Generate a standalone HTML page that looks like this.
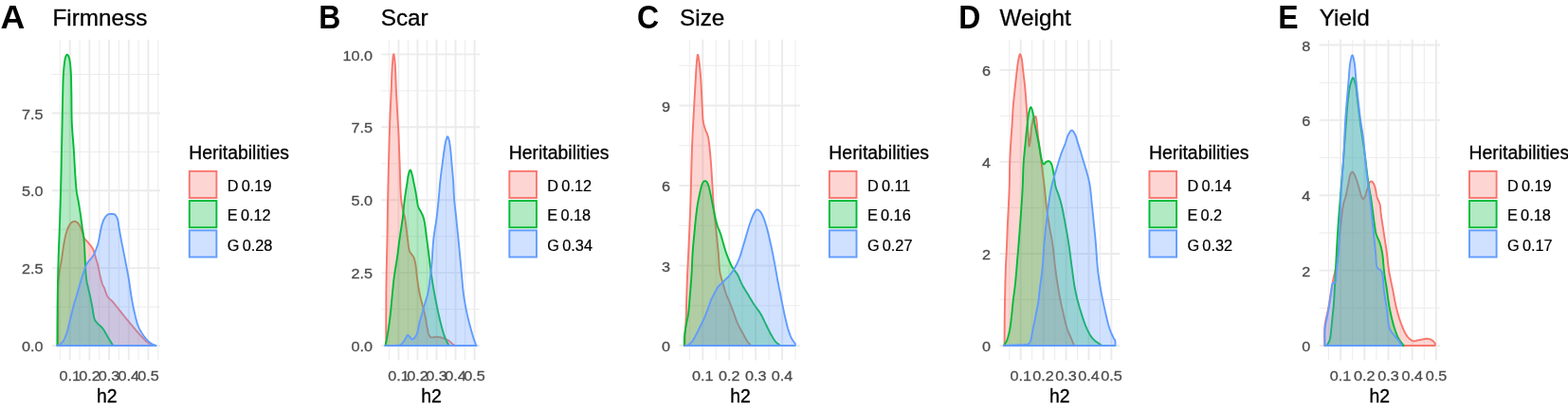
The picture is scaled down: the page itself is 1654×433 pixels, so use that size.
<!DOCTYPE html>
<html><head><meta charset="utf-8"><title>Heritabilities</title><style>
html,body{margin:0;padding:0;background:#fff;}
body{width:1654px;height:433px;overflow:hidden;}
svg{display:block;}
text{font-family:"Liberation Sans",Arial,sans-serif;}
.ax{font-size:16.2px;fill:#4D4D4D;stroke:#4D4D4D;stroke-width:0.3px;}
.at{font-size:19.4px;fill:#000;stroke:#000;stroke-width:0.3px;}
.lg{font-size:16.3px;fill:#000;word-spacing:-1.3px;stroke:#000;stroke-width:0.2px;}
.ti{font-size:24.3px;fill:#000;stroke:#000;stroke-width:0.3px;}
.lt{font-size:34.4px;font-weight:bold;fill:#000;}
</style></head><body>
<svg width="1654" height="433" viewBox="0 0 1654 433">
<rect width="1654" height="433" fill="#fff"/>
<line x1="63.36" y1="41.80" x2="63.36" y2="380.40" stroke="#EBEBEB" stroke-width="0.95"/>
<line x1="84.04" y1="41.80" x2="84.04" y2="380.40" stroke="#EBEBEB" stroke-width="0.95"/>
<line x1="104.71" y1="41.80" x2="104.71" y2="380.40" stroke="#EBEBEB" stroke-width="0.95"/>
<line x1="125.39" y1="41.80" x2="125.39" y2="380.40" stroke="#EBEBEB" stroke-width="0.95"/>
<line x1="146.06" y1="41.80" x2="146.06" y2="380.40" stroke="#EBEBEB" stroke-width="0.95"/>
<line x1="166.74" y1="41.80" x2="166.74" y2="380.40" stroke="#EBEBEB" stroke-width="0.95"/>
<line x1="54.70" y1="324.07" x2="169.10" y2="324.07" stroke="#EBEBEB" stroke-width="0.95"/>
<line x1="54.70" y1="242.22" x2="169.10" y2="242.22" stroke="#EBEBEB" stroke-width="0.95"/>
<line x1="54.70" y1="160.38" x2="169.10" y2="160.38" stroke="#EBEBEB" stroke-width="0.95"/>
<line x1="54.70" y1="78.52" x2="169.10" y2="78.52" stroke="#EBEBEB" stroke-width="0.95"/>
<line x1="73.70" y1="41.80" x2="73.70" y2="380.40" stroke="#EBEBEB" stroke-width="1.9"/>
<line x1="94.38" y1="41.80" x2="94.38" y2="380.40" stroke="#EBEBEB" stroke-width="1.9"/>
<line x1="115.05" y1="41.80" x2="115.05" y2="380.40" stroke="#EBEBEB" stroke-width="1.9"/>
<line x1="135.73" y1="41.80" x2="135.73" y2="380.40" stroke="#EBEBEB" stroke-width="1.9"/>
<line x1="156.40" y1="41.80" x2="156.40" y2="380.40" stroke="#EBEBEB" stroke-width="1.9"/>
<line x1="54.70" y1="365.00" x2="169.10" y2="365.00" stroke="#EBEBEB" stroke-width="1.9"/>
<line x1="54.70" y1="283.15" x2="169.10" y2="283.15" stroke="#EBEBEB" stroke-width="1.9"/>
<line x1="54.70" y1="201.30" x2="169.10" y2="201.30" stroke="#EBEBEB" stroke-width="1.9"/>
<line x1="54.70" y1="119.45" x2="169.10" y2="119.45" stroke="#EBEBEB" stroke-width="1.9"/>
<path d="M61.30 365.00 L61.30 365.00 L61.30 360.61 L61.29 356.19 L61.29 351.76 L61.29 347.33 L61.28 342.93 L61.28 338.56 L61.29 334.25 L61.30 330.00 L61.30 326.07 L61.28 322.10 L61.26 318.13 L61.25 314.21 L61.25 310.39 L61.29 306.72 L61.37 303.24 L61.50 300.00 L61.63 297.85 L61.78 295.80 L61.94 293.84 L62.13 291.96 L62.33 290.15 L62.54 288.39 L62.77 286.68 L63.00 285.00 L63.20 283.71 L63.41 282.50 L63.64 281.34 L63.87 280.21 L64.11 279.07 L64.34 277.91 L64.57 276.70 L64.80 275.40 L65.08 273.64 L65.34 271.77 L65.61 269.81 L65.87 267.82 L66.14 265.81 L66.42 263.81 L66.70 261.86 L67.00 260.00 L67.27 258.38 L67.54 256.77 L67.81 255.18 L68.09 253.61 L68.39 252.08 L68.70 250.58 L69.03 249.12 L69.40 247.70 L69.73 246.50 L70.08 245.32 L70.44 244.15 L70.82 243.01 L71.21 241.91 L71.62 240.87 L72.05 239.90 L72.50 239.00 L72.84 238.38 L73.19 237.79 L73.54 237.23 L73.91 236.70 L74.28 236.21 L74.67 235.76 L75.08 235.35 L75.50 235.00 L75.86 234.74 L76.24 234.51 L76.62 234.31 L77.02 234.13 L77.42 233.99 L77.82 233.88 L78.21 233.82 L78.60 233.80 L78.97 233.83 L79.35 233.90 L79.72 234.01 L80.09 234.15 L80.46 234.33 L80.82 234.53 L81.17 234.76 L81.50 235.00 L81.88 235.32 L82.25 235.69 L82.60 236.10 L82.94 236.54 L83.27 237.00 L83.59 237.49 L83.90 237.99 L84.20 238.50 L84.53 239.11 L84.84 239.74 L85.14 240.41 L85.42 241.10 L85.70 241.80 L85.96 242.52 L86.23 243.26 L86.50 244.00 L86.79 244.89 L87.05 245.84 L87.30 246.83 L87.55 247.82 L87.81 248.80 L88.09 249.74 L88.42 250.62 L88.80 251.40 L89.14 251.94 L89.52 252.44 L89.91 252.89 L90.33 253.31 L90.75 253.73 L91.17 254.14 L91.59 254.56 L92.00 255.00 L92.40 255.46 L92.81 255.92 L93.21 256.38 L93.62 256.84 L94.02 257.31 L94.42 257.79 L94.81 258.28 L95.20 258.80 L95.63 259.39 L96.07 259.99 L96.51 260.61 L96.94 261.25 L97.36 261.90 L97.77 262.57 L98.15 263.27 L98.50 264.00 L98.86 264.87 L99.18 265.78 L99.47 266.72 L99.74 267.69 L100.00 268.68 L100.25 269.68 L100.52 270.69 L100.80 271.70 L101.13 272.82 L101.48 273.96 L101.83 275.12 L102.19 276.29 L102.54 277.47 L102.88 278.65 L103.20 279.83 L103.50 281.00 L103.77 282.15 L104.01 283.29 L104.24 284.44 L104.46 285.58 L104.68 286.73 L104.90 287.88 L105.14 289.04 L105.40 290.20 L105.69 291.44 L106.00 292.73 L106.31 294.05 L106.63 295.35 L106.97 296.63 L107.31 297.85 L107.65 298.98 L108.00 300.00 L108.24 300.61 L108.48 301.15 L108.72 301.64 L108.96 302.11 L109.21 302.58 L109.47 303.07 L109.73 303.61 L110.00 304.20 L110.40 305.21 L110.81 306.36 L111.22 307.59 L111.65 308.87 L112.11 310.14 L112.60 311.37 L113.12 312.50 L113.70 313.50 L114.20 314.19 L114.74 314.80 L115.31 315.36 L115.89 315.89 L116.49 316.40 L117.10 316.93 L117.70 317.49 L118.30 318.10 L119.00 318.88 L119.71 319.71 L120.42 320.57 L121.14 321.44 L121.87 322.34 L122.58 323.23 L123.30 324.12 L124.00 325.00 L124.68 325.85 L125.33 326.68 L125.97 327.51 L126.62 328.35 L127.27 329.20 L127.95 330.07 L128.65 330.96 L129.40 331.90 L130.42 333.16 L131.50 334.48 L132.62 335.84 L133.78 337.25 L134.97 338.67 L136.17 340.11 L137.39 341.56 L138.60 343.00 L139.96 344.61 L141.38 346.31 L142.84 348.05 L144.31 349.78 L145.76 351.48 L147.16 353.09 L148.48 354.58 L149.70 355.90 L150.44 356.68 L151.15 357.42 L151.82 358.12 L152.47 358.77 L153.11 359.38 L153.74 359.96 L154.37 360.50 L155.00 361.00 L155.49 361.36 L155.97 361.70 L156.45 362.00 L156.92 362.29 L157.40 362.55 L157.88 362.81 L158.38 363.06 L158.90 363.30 L159.49 363.55 L160.09 363.78 L160.72 364.00 L161.35 364.20 L161.99 364.40 L162.63 364.59 L163.27 364.79 L163.90 365.00 L163.90 365.00 Z" fill="#F8766D" fill-opacity="0.30" stroke="#F8766D" stroke-width="1.90" stroke-linejoin="round"/>
<path d="M60.40 365.00 L60.40 365.00 L60.41 361.89 L60.42 358.80 L60.43 355.73 L60.44 352.64 L60.45 349.54 L60.46 346.41 L60.48 343.23 L60.50 340.00 L60.53 336.34 L60.56 332.55 L60.59 328.68 L60.62 324.79 L60.66 320.93 L60.71 317.14 L60.75 313.48 L60.80 310.00 L60.84 307.33 L60.88 304.79 L60.93 302.35 L60.98 299.96 L61.03 297.57 L61.08 295.14 L61.14 292.63 L61.20 290.00 L61.28 286.64 L61.38 283.06 L61.48 279.33 L61.58 275.56 L61.69 271.85 L61.79 268.29 L61.90 264.97 L62.00 262.00 L62.06 260.28 L62.13 258.72 L62.19 257.27 L62.25 255.88 L62.31 254.50 L62.37 253.10 L62.44 251.61 L62.50 250.00 L62.58 247.78 L62.67 245.47 L62.75 243.09 L62.84 240.63 L62.93 238.09 L63.02 235.47 L63.11 232.77 L63.20 230.00 L63.32 226.28 L63.45 222.37 L63.58 218.31 L63.71 214.13 L63.84 209.87 L63.96 205.58 L64.09 201.27 L64.20 197.00 L64.31 192.45 L64.42 187.81 L64.53 183.11 L64.63 178.39 L64.72 173.68 L64.82 169.03 L64.91 164.45 L65.00 160.00 L65.08 156.10 L65.16 152.28 L65.23 148.52 L65.31 144.80 L65.38 141.11 L65.45 137.43 L65.53 133.73 L65.60 130.00 L65.67 126.21 L65.75 122.36 L65.82 118.48 L65.89 114.62 L65.96 110.81 L66.04 107.07 L66.12 103.46 L66.20 100.00 L66.26 97.27 L66.32 94.60 L66.38 91.98 L66.45 89.43 L66.51 86.95 L66.59 84.55 L66.69 82.23 L66.80 80.00 L66.90 78.34 L67.00 76.73 L67.11 75.17 L67.22 73.65 L67.35 72.18 L67.48 70.75 L67.63 69.36 L67.80 68.00 L67.94 66.88 L68.07 65.76 L68.21 64.65 L68.36 63.57 L68.53 62.55 L68.72 61.60 L68.94 60.74 L69.20 60.00 L69.37 59.60 L69.56 59.20 L69.75 58.81 L69.96 58.46 L70.17 58.16 L70.38 57.92 L70.59 57.76 L70.80 57.70 L71.00 57.73 L71.21 57.85 L71.42 58.04 L71.63 58.28 L71.84 58.56 L72.04 58.86 L72.23 59.18 L72.40 59.50 L72.63 60.02 L72.83 60.60 L73.01 61.24 L73.17 61.94 L73.31 62.67 L73.44 63.43 L73.57 64.21 L73.70 65.00 L73.87 66.08 L74.02 67.20 L74.16 68.37 L74.28 69.59 L74.40 70.86 L74.50 72.19 L74.60 73.56 L74.70 75.00 L74.82 77.13 L74.92 79.38 L75.00 81.75 L75.07 84.22 L75.13 86.79 L75.19 89.45 L75.24 92.19 L75.30 95.00 L75.37 98.94 L75.41 103.16 L75.43 107.59 L75.46 112.15 L75.49 116.74 L75.55 121.31 L75.65 125.75 L75.80 130.00 L75.98 133.63 L76.21 137.18 L76.46 140.66 L76.73 144.10 L77.01 147.52 L77.29 150.92 L77.56 154.35 L77.80 157.80 L78.02 161.32 L78.22 164.92 L78.42 168.54 L78.61 172.15 L78.80 175.70 L78.99 179.15 L79.19 182.47 L79.40 185.60 L79.56 187.90 L79.71 190.13 L79.86 192.29 L80.02 194.38 L80.19 196.41 L80.37 198.39 L80.57 200.32 L80.80 202.20 L81.01 203.69 L81.25 205.11 L81.50 206.48 L81.75 207.82 L82.02 209.15 L82.28 210.49 L82.55 211.87 L82.80 213.30 L83.08 214.96 L83.36 216.66 L83.64 218.40 L83.92 220.15 L84.20 221.92 L84.47 223.69 L84.74 225.45 L85.00 227.20 L85.25 228.96 L85.50 230.75 L85.74 232.55 L85.98 234.34 L86.21 236.11 L86.44 237.84 L86.67 239.51 L86.90 241.10 L87.08 242.29 L87.27 243.41 L87.46 244.48 L87.64 245.53 L87.82 246.58 L87.99 247.66 L88.15 248.79 L88.30 250.00 L88.47 251.69 L88.62 253.47 L88.75 255.34 L88.88 257.25 L88.99 259.20 L89.09 261.16 L89.20 263.10 L89.30 265.00 L89.40 266.87 L89.48 268.74 L89.56 270.60 L89.63 272.47 L89.71 274.34 L89.79 276.22 L89.89 278.10 L90.00 280.00 L90.13 282.01 L90.25 284.10 L90.39 286.21 L90.53 288.32 L90.69 290.39 L90.87 292.38 L91.07 294.26 L91.30 296.00 L91.48 297.13 L91.67 298.18 L91.88 299.18 L92.09 300.14 L92.31 301.08 L92.54 302.02 L92.77 302.99 L93.00 304.00 L93.26 305.14 L93.53 306.30 L93.80 307.46 L94.08 308.64 L94.37 309.83 L94.65 311.04 L94.93 312.26 L95.20 313.50 L95.49 314.88 L95.78 316.28 L96.07 317.71 L96.36 319.15 L96.64 320.60 L96.93 322.06 L97.21 323.53 L97.50 325.00 L97.78 326.59 L98.04 328.27 L98.28 330.00 L98.54 331.71 L98.81 333.37 L99.12 334.92 L99.47 336.31 L99.90 337.50 L100.18 338.10 L100.48 338.62 L100.78 339.08 L101.11 339.50 L101.45 339.91 L101.81 340.31 L102.19 340.74 L102.60 341.20 L103.19 341.84 L103.85 342.47 L104.56 343.11 L105.31 343.77 L106.06 344.44 L106.80 345.15 L107.52 345.90 L108.20 346.70 L108.95 347.72 L109.68 348.83 L110.39 350.02 L111.08 351.23 L111.76 352.46 L112.42 353.67 L113.07 354.82 L113.70 355.90 L114.22 356.74 L114.73 357.56 L115.24 358.37 L115.74 359.16 L116.22 359.92 L116.68 360.65 L117.11 361.35 L117.50 362.00 L117.75 362.42 L117.98 362.82 L118.19 363.20 L118.40 363.56 L118.60 363.92 L118.79 364.27 L118.99 364.63 L119.20 365.00 L119.20 365.00 Z" fill="#00BA38" fill-opacity="0.30" stroke="#00BA38" stroke-width="1.90" stroke-linejoin="round"/>
<path d="M60.20 365.00 L60.20 365.00 L60.45 364.94 L60.70 364.90 L60.95 364.86 L61.21 364.81 L61.46 364.76 L61.71 364.70 L61.95 364.61 L62.20 364.50 L62.49 364.33 L62.79 364.12 L63.08 363.88 L63.36 363.63 L63.65 363.35 L63.93 363.07 L64.22 362.78 L64.50 362.50 L64.82 362.19 L65.13 361.89 L65.45 361.58 L65.76 361.26 L66.08 360.92 L66.39 360.56 L66.70 360.15 L67.00 359.70 L67.48 358.89 L67.96 357.97 L68.43 356.95 L68.90 355.86 L69.36 354.73 L69.80 353.58 L70.21 352.42 L70.60 351.30 L70.97 350.13 L71.30 348.94 L71.60 347.73 L71.89 346.51 L72.16 345.27 L72.43 344.04 L72.71 342.82 L73.00 341.60 L73.30 340.40 L73.59 339.22 L73.89 338.04 L74.18 336.86 L74.48 335.68 L74.78 334.47 L75.09 333.25 L75.40 332.00 L75.76 330.54 L76.13 329.01 L76.51 327.43 L76.89 325.85 L77.27 324.29 L77.66 322.77 L78.03 321.33 L78.40 320.00 L78.66 319.11 L78.92 318.31 L79.16 317.55 L79.41 316.82 L79.66 316.08 L79.93 315.30 L80.20 314.45 L80.50 313.50 L81.04 311.69 L81.63 309.63 L82.26 307.38 L82.92 305.03 L83.59 302.64 L84.25 300.29 L84.89 298.05 L85.50 296.00 L85.95 294.49 L86.39 293.02 L86.82 291.59 L87.24 290.21 L87.66 288.86 L88.09 287.54 L88.54 286.26 L89.00 285.00 L89.41 283.93 L89.82 282.88 L90.24 281.84 L90.66 280.83 L91.10 279.85 L91.55 278.91 L92.01 278.03 L92.50 277.20 L92.91 276.59 L93.34 276.02 L93.79 275.50 L94.24 274.99 L94.70 274.50 L95.14 274.01 L95.58 273.52 L96.00 273.00 L96.39 272.50 L96.77 272.00 L97.15 271.51 L97.51 271.02 L97.87 270.52 L98.23 270.00 L98.57 269.46 L98.90 268.90 L99.26 268.23 L99.62 267.52 L99.95 266.79 L100.28 266.05 L100.60 265.29 L100.91 264.52 L101.21 263.76 L101.50 263.00 L101.78 262.26 L102.05 261.53 L102.31 260.80 L102.56 260.06 L102.80 259.31 L103.04 258.54 L103.27 257.74 L103.50 256.90 L103.78 255.78 L104.04 254.58 L104.30 253.34 L104.55 252.06 L104.79 250.77 L105.03 249.48 L105.26 248.22 L105.50 247.00 L105.71 245.90 L105.91 244.81 L106.09 243.73 L106.28 242.67 L106.48 241.61 L106.69 240.56 L106.93 239.52 L107.20 238.50 L107.48 237.51 L107.78 236.52 L108.09 235.53 L108.42 234.55 L108.78 233.60 L109.15 232.68 L109.56 231.81 L110.00 231.00 L110.40 230.34 L110.82 229.68 L111.25 229.04 L111.71 228.44 L112.18 227.88 L112.67 227.37 L113.18 226.94 L113.70 226.60 L114.14 226.39 L114.60 226.23 L115.08 226.12 L115.56 226.05 L116.05 226.02 L116.54 226.00 L117.03 226.00 L117.50 226.00 L117.96 226.00 L118.43 226.00 L118.91 226.01 L119.38 226.05 L119.84 226.12 L120.28 226.22 L120.71 226.38 L121.10 226.60 L121.54 226.95 L121.95 227.39 L122.33 227.90 L122.69 228.47 L123.02 229.08 L123.34 229.74 L123.63 230.41 L123.90 231.10 L124.21 232.04 L124.46 233.06 L124.66 234.14 L124.84 235.27 L124.99 236.43 L125.14 237.62 L125.31 238.81 L125.50 240.00 L125.73 241.33 L125.96 242.65 L126.19 243.99 L126.42 245.35 L126.67 246.76 L126.92 248.22 L127.20 249.77 L127.50 251.40 L127.99 254.00 L128.54 256.84 L129.13 259.86 L129.76 263.00 L130.39 266.19 L131.02 269.36 L131.63 272.46 L132.20 275.40 L132.69 277.95 L133.18 280.45 L133.67 282.92 L134.14 285.35 L134.60 287.77 L135.05 290.18 L135.49 292.59 L135.90 295.00 L136.27 297.34 L136.61 299.66 L136.93 301.98 L137.24 304.29 L137.55 306.59 L137.88 308.90 L138.22 311.20 L138.60 313.50 L139.01 315.83 L139.44 318.19 L139.88 320.56 L140.34 322.92 L140.82 325.25 L141.30 327.54 L141.80 329.76 L142.30 331.90 L142.72 333.65 L143.12 335.36 L143.52 337.03 L143.93 338.66 L144.37 340.26 L144.85 341.83 L145.39 343.37 L146.00 344.90 L146.67 346.38 L147.40 347.85 L148.18 349.30 L149.00 350.73 L149.85 352.11 L150.73 353.44 L151.61 354.71 L152.50 355.90 L153.26 356.86 L154.03 357.79 L154.82 358.69 L155.62 359.54 L156.43 360.34 L157.25 361.09 L158.07 361.78 L158.90 362.40 L159.59 362.84 L160.28 363.22 L160.98 363.56 L161.68 363.86 L162.39 364.13 L163.09 364.41 L163.80 364.69 L164.50 365.00 L164.50 365.00 Z" fill="#619CFF" fill-opacity="0.30" stroke="#619CFF" stroke-width="1.90" stroke-linejoin="round"/>
<text transform="translate(45.40 371.15) scale(1.000 0.940)" class="ax" text-anchor="end">0.0</text>
<text transform="translate(45.40 289.30) scale(1.000 0.940)" class="ax" text-anchor="end">2.5</text>
<text transform="translate(45.40 207.45) scale(1.000 0.940)" class="ax" text-anchor="end">5.0</text>
<text transform="translate(45.40 125.60) scale(1.000 0.940)" class="ax" text-anchor="end">7.5</text>
<text transform="translate(73.70 401.70) scale(1.000 0.940)" class="ax" text-anchor="middle">0.1</text>
<text transform="translate(94.38 401.70) scale(1.000 0.940)" class="ax" text-anchor="middle">0.2</text>
<text transform="translate(115.05 401.70) scale(1.000 0.940)" class="ax" text-anchor="middle">0.3</text>
<text transform="translate(135.73 401.70) scale(1.000 0.940)" class="ax" text-anchor="middle">0.4</text>
<text transform="translate(156.40 401.70) scale(1.000 0.940)" class="ax" text-anchor="middle">0.5</text>
<text transform="translate(112.80 424.80) scale(1.000 1.060)" class="at" text-anchor="middle">h2</text>
<text transform="translate(0.40 30.00) scale(1.040 1.000)" class="lt">A</text>
<text x="55.40" y="26.70" class="ti">Firmness</text>
<text transform="translate(199.25 167.50) scale(1.000 1.060)" class="at">Heritabilities</text>
<rect x="199.80" y="180.80" width="28.6" height="28.2" fill="#F8766D" fill-opacity="0.30" stroke="#F8766D" stroke-width="1.90"/>
<text transform="translate(239.80 202.00) scale(1.000 1.030)" class="lg">D 0.19</text>
<rect x="199.80" y="212.05" width="28.6" height="28.2" fill="#00BA38" fill-opacity="0.30" stroke="#00BA38" stroke-width="1.90"/>
<text transform="translate(239.80 233.25) scale(1.000 1.030)" class="lg">E 0.12</text>
<rect x="199.80" y="243.30" width="28.6" height="28.2" fill="#619CFF" fill-opacity="0.30" stroke="#619CFF" stroke-width="1.90"/>
<text transform="translate(239.80 264.50) scale(1.000 1.030)" class="lg">G 0.28</text>
<line x1="410.38" y1="41.80" x2="410.38" y2="380.40" stroke="#EBEBEB" stroke-width="0.95"/>
<line x1="430.42" y1="41.80" x2="430.42" y2="380.40" stroke="#EBEBEB" stroke-width="0.95"/>
<line x1="450.48" y1="41.80" x2="450.48" y2="380.40" stroke="#EBEBEB" stroke-width="0.95"/>
<line x1="470.52" y1="41.80" x2="470.52" y2="380.40" stroke="#EBEBEB" stroke-width="0.95"/>
<line x1="490.58" y1="41.80" x2="490.58" y2="380.40" stroke="#EBEBEB" stroke-width="0.95"/>
<line x1="402.20" y1="326.55" x2="506.20" y2="326.55" stroke="#EBEBEB" stroke-width="0.95"/>
<line x1="402.20" y1="249.65" x2="506.20" y2="249.65" stroke="#EBEBEB" stroke-width="0.95"/>
<line x1="402.20" y1="172.75" x2="506.20" y2="172.75" stroke="#EBEBEB" stroke-width="0.95"/>
<line x1="402.20" y1="95.85" x2="506.20" y2="95.85" stroke="#EBEBEB" stroke-width="0.95"/>
<line x1="420.40" y1="41.80" x2="420.40" y2="380.40" stroke="#EBEBEB" stroke-width="1.9"/>
<line x1="440.45" y1="41.80" x2="440.45" y2="380.40" stroke="#EBEBEB" stroke-width="1.9"/>
<line x1="460.50" y1="41.80" x2="460.50" y2="380.40" stroke="#EBEBEB" stroke-width="1.9"/>
<line x1="480.55" y1="41.80" x2="480.55" y2="380.40" stroke="#EBEBEB" stroke-width="1.9"/>
<line x1="500.60" y1="41.80" x2="500.60" y2="380.40" stroke="#EBEBEB" stroke-width="1.9"/>
<line x1="402.20" y1="365.00" x2="506.20" y2="365.00" stroke="#EBEBEB" stroke-width="1.9"/>
<line x1="402.20" y1="288.10" x2="506.20" y2="288.10" stroke="#EBEBEB" stroke-width="1.9"/>
<line x1="402.20" y1="211.20" x2="506.20" y2="211.20" stroke="#EBEBEB" stroke-width="1.9"/>
<line x1="402.20" y1="134.30" x2="506.20" y2="134.30" stroke="#EBEBEB" stroke-width="1.9"/>
<line x1="402.20" y1="57.40" x2="506.20" y2="57.40" stroke="#EBEBEB" stroke-width="1.9"/>
<path d="M407.20 365.00 L407.20 365.00 L407.21 360.61 L407.22 356.19 L407.23 351.76 L407.24 347.33 L407.25 342.93 L407.27 338.56 L407.28 334.25 L407.30 330.00 L407.32 326.19 L407.33 322.52 L407.35 318.92 L407.36 315.33 L407.38 311.71 L407.41 307.98 L407.45 304.10 L407.50 300.00 L407.59 294.31 L407.70 288.24 L407.83 281.90 L407.97 275.39 L408.11 268.84 L408.25 262.35 L408.39 256.03 L408.50 250.00 L408.59 244.92 L408.66 239.97 L408.73 235.12 L408.80 230.33 L408.86 225.59 L408.93 220.85 L409.01 216.10 L409.10 211.30 L409.20 206.50 L409.30 201.72 L409.41 196.94 L409.52 192.17 L409.63 187.38 L409.75 182.57 L409.87 177.71 L410.00 172.80 L410.13 167.53 L410.27 162.15 L410.41 156.71 L410.55 151.24 L410.70 145.80 L410.86 140.42 L411.02 135.14 L411.20 130.00 L411.37 125.51 L411.55 121.07 L411.74 116.70 L411.94 112.38 L412.13 108.13 L412.33 103.93 L412.52 99.79 L412.70 95.70 L412.85 92.01 L412.98 88.27 L413.11 84.53 L413.24 80.86 L413.38 77.32 L413.53 73.95 L413.70 70.83 L413.90 68.00 L414.04 66.26 L414.19 64.44 L414.35 62.63 L414.51 60.94 L414.68 59.45 L414.85 58.27 L415.02 57.49 L415.20 57.20 L415.36 57.39 L415.52 57.93 L415.69 58.75 L415.86 59.79 L416.03 61.00 L416.20 62.32 L416.36 63.67 L416.50 65.00 L416.75 67.87 L416.95 71.26 L417.13 75.06 L417.28 79.12 L417.43 83.35 L417.57 87.60 L417.72 91.76 L417.90 95.70 L418.09 99.46 L418.29 103.30 L418.50 107.17 L418.71 111.00 L418.92 114.75 L419.12 118.37 L419.32 121.81 L419.50 125.00 L419.62 127.07 L419.74 128.96 L419.86 130.73 L419.97 132.45 L420.08 134.17 L420.18 135.96 L420.29 137.88 L420.40 140.00 L420.56 143.48 L420.71 147.26 L420.85 151.28 L421.00 155.48 L421.14 159.79 L421.29 164.16 L421.44 168.51 L421.60 172.80 L421.76 177.47 L421.90 182.40 L422.04 187.45 L422.18 192.50 L422.35 197.41 L422.55 202.05 L422.79 206.29 L423.10 210.00 L423.31 211.90 L423.53 213.66 L423.76 215.30 L424.01 216.84 L424.27 218.30 L424.54 219.72 L424.82 221.11 L425.10 222.50 L425.34 223.60 L425.60 224.61 L425.87 225.57 L426.14 226.52 L426.42 227.48 L426.69 228.49 L426.95 229.59 L427.20 230.80 L427.57 232.98 L427.93 235.44 L428.27 238.10 L428.60 240.89 L428.93 243.72 L429.25 246.50 L429.57 249.15 L429.90 251.60 L430.15 253.47 L430.37 255.35 L430.57 257.21 L430.79 259.01 L431.02 260.72 L431.29 262.30 L431.61 263.74 L432.00 265.00 L432.27 265.64 L432.56 266.22 L432.88 266.74 L433.21 267.22 L433.54 267.67 L433.87 268.11 L434.19 268.55 L434.50 269.00 L434.76 269.39 L435.03 269.75 L435.29 270.09 L435.55 270.43 L435.80 270.78 L436.05 271.15 L436.28 271.56 L436.50 272.00 L436.77 272.67 L437.02 273.38 L437.24 274.13 L437.45 274.93 L437.64 275.77 L437.83 276.67 L438.01 277.61 L438.20 278.60 L438.48 280.30 L438.74 282.18 L438.98 284.22 L439.21 286.36 L439.44 288.55 L439.67 290.75 L439.92 292.92 L440.20 295.00 L440.48 296.98 L440.76 298.93 L441.05 300.86 L441.35 302.80 L441.67 304.74 L442.01 306.72 L442.39 308.73 L442.80 310.80 L443.35 313.30 L443.98 315.90 L444.67 318.56 L445.39 321.26 L446.10 323.95 L446.79 326.59 L447.44 329.16 L448.00 331.60 L448.41 333.57 L448.78 335.52 L449.13 337.44 L449.46 339.31 L449.77 341.13 L450.08 342.88 L450.38 344.54 L450.70 346.10 L450.92 347.17 L451.12 348.22 L451.30 349.23 L451.49 350.20 L451.70 351.13 L451.93 351.99 L452.19 352.78 L452.50 353.50 L452.73 353.96 L452.98 354.40 L453.23 354.82 L453.49 355.21 L453.78 355.56 L454.09 355.86 L454.43 356.11 L454.80 356.30 L455.27 356.42 L455.78 356.42 L456.34 356.35 L456.92 356.23 L457.53 356.08 L458.15 355.94 L458.78 355.84 L459.40 355.80 L460.15 355.81 L460.94 355.85 L461.75 355.91 L462.57 355.99 L463.39 356.09 L464.20 356.21 L464.97 356.35 L465.70 356.50 L466.29 356.65 L466.86 356.81 L467.42 356.98 L467.97 357.17 L468.49 357.37 L469.01 357.58 L469.51 357.79 L470.00 358.00 L470.40 358.18 L470.78 358.35 L471.15 358.53 L471.50 358.71 L471.86 358.90 L472.22 359.11 L472.60 359.34 L473.00 359.60 L473.61 360.03 L474.27 360.55 L474.97 361.13 L475.67 361.73 L476.37 362.32 L477.03 362.89 L477.65 363.39 L478.20 363.80 L478.49 364.00 L478.76 364.17 L479.01 364.32 L479.25 364.46 L479.48 364.59 L479.72 364.72 L479.96 364.86 L480.20 365.00 L480.20 365.00 Z" fill="#F8766D" fill-opacity="0.30" stroke="#F8766D" stroke-width="1.90" stroke-linejoin="round"/>
<path d="M406.40 365.00 L406.40 365.00 L406.55 364.38 L406.70 363.78 L406.85 363.18 L407.00 362.58 L407.16 361.96 L407.31 361.34 L407.45 360.68 L407.60 360.00 L407.78 359.09 L407.96 358.15 L408.14 357.16 L408.31 356.15 L408.49 355.12 L408.66 354.08 L408.83 353.04 L409.00 352.00 L409.18 350.91 L409.36 349.82 L409.54 348.72 L409.71 347.62 L409.89 346.50 L410.06 345.36 L410.23 344.19 L410.40 343.00 L410.59 341.60 L410.78 340.19 L410.97 338.75 L411.16 337.28 L411.35 335.78 L411.53 334.24 L411.72 332.64 L411.90 331.00 L412.13 328.84 L412.35 326.57 L412.57 324.22 L412.79 321.80 L413.01 319.35 L413.24 316.89 L413.46 314.43 L413.70 312.00 L413.94 309.52 L414.18 307.03 L414.42 304.52 L414.67 302.01 L414.93 299.50 L415.20 296.99 L415.49 294.49 L415.80 292.00 L416.14 289.54 L416.51 287.10 L416.91 284.66 L417.32 282.22 L417.73 279.78 L418.13 277.34 L418.53 274.88 L418.90 272.40 L419.26 269.83 L419.60 267.25 L419.93 264.65 L420.26 262.04 L420.58 259.43 L420.91 256.81 L421.25 254.20 L421.60 251.60 L421.98 249.00 L422.37 246.39 L422.78 243.78 L423.18 241.17 L423.59 238.57 L423.98 235.97 L424.36 233.38 L424.70 230.80 L425.00 228.30 L425.27 225.80 L425.52 223.30 L425.76 220.81 L426.00 218.33 L426.24 215.87 L426.51 213.42 L426.80 211.00 L427.11 208.66 L427.44 206.29 L427.79 203.91 L428.15 201.56 L428.51 199.26 L428.86 197.04 L429.19 194.95 L429.50 193.00 L429.70 191.70 L429.87 190.46 L430.04 189.25 L430.20 188.10 L430.37 187.00 L430.55 185.95 L430.76 184.95 L431.00 184.00 L431.20 183.29 L431.41 182.54 L431.63 181.79 L431.86 181.08 L432.10 180.45 L432.34 179.95 L432.57 179.62 L432.80 179.50 L433.03 179.62 L433.26 179.95 L433.49 180.45 L433.72 181.08 L433.95 181.79 L434.17 182.54 L434.39 183.29 L434.60 184.00 L434.87 184.97 L435.12 186.01 L435.36 187.12 L435.59 188.27 L435.82 189.45 L436.04 190.64 L436.27 191.83 L436.50 193.00 L436.75 194.23 L437.01 195.49 L437.28 196.76 L437.54 198.03 L437.79 199.31 L438.04 200.56 L438.28 201.80 L438.50 203.00 L438.68 204.04 L438.85 205.07 L439.01 206.08 L439.17 207.08 L439.32 208.07 L439.47 209.05 L439.63 210.02 L439.80 211.00 L439.95 211.94 L440.09 212.87 L440.23 213.80 L440.37 214.73 L440.52 215.64 L440.71 216.54 L440.93 217.43 L441.20 218.30 L441.53 219.13 L441.91 219.93 L442.33 220.72 L442.78 221.50 L443.23 222.27 L443.68 223.04 L444.11 223.81 L444.50 224.60 L444.85 225.34 L445.19 226.05 L445.51 226.74 L445.83 227.45 L446.13 228.18 L446.43 228.97 L446.72 229.83 L447.00 230.80 L447.47 232.80 L447.90 235.12 L448.30 237.68 L448.68 240.41 L449.04 243.25 L449.39 246.10 L449.74 248.91 L450.10 251.60 L450.46 254.20 L450.81 256.81 L451.15 259.43 L451.48 262.04 L451.81 264.64 L452.14 267.24 L452.47 269.83 L452.80 272.40 L453.11 274.88 L453.42 277.35 L453.72 279.81 L454.02 282.26 L454.32 284.71 L454.63 287.15 L454.96 289.58 L455.30 292.00 L455.65 294.37 L456.01 296.71 L456.38 299.04 L456.76 301.37 L457.15 303.70 L457.55 306.05 L457.97 308.41 L458.40 310.80 L458.88 313.37 L459.37 315.99 L459.89 318.63 L460.42 321.29 L460.95 323.93 L461.50 326.55 L462.05 329.11 L462.60 331.60 L463.10 333.80 L463.60 335.99 L464.11 338.17 L464.62 340.30 L465.14 342.39 L465.66 344.41 L466.18 346.35 L466.70 348.20 L467.10 349.57 L467.50 350.89 L467.89 352.16 L468.29 353.39 L468.69 354.58 L469.11 355.75 L469.54 356.88 L470.00 358.00 L470.42 358.94 L470.85 359.85 L471.30 360.73 L471.76 361.59 L472.22 362.44 L472.68 363.28 L473.15 364.13 L473.60 365.00 L473.60 365.00 Z" fill="#00BA38" fill-opacity="0.30" stroke="#00BA38" stroke-width="1.90" stroke-linejoin="round"/>
<path d="M406.40 365.00 L406.40 365.00 L407.36 364.99 L408.33 364.98 L409.30 364.97 L410.28 364.96 L411.24 364.95 L412.19 364.94 L413.11 364.92 L414.00 364.90 L414.75 364.88 L415.49 364.87 L416.23 364.85 L416.95 364.84 L417.65 364.82 L418.31 364.79 L418.93 364.75 L419.50 364.70 L419.84 364.66 L420.16 364.63 L420.46 364.59 L420.75 364.55 L421.02 364.50 L421.29 364.45 L421.55 364.38 L421.80 364.30 L422.01 364.23 L422.20 364.15 L422.38 364.07 L422.56 363.99 L422.74 363.89 L422.92 363.78 L423.10 363.65 L423.30 363.50 L423.64 363.20 L424.00 362.84 L424.38 362.43 L424.76 361.98 L425.14 361.51 L425.51 361.03 L425.87 360.56 L426.20 360.10 L426.50 359.66 L426.77 359.20 L427.04 358.74 L427.29 358.27 L427.54 357.81 L427.79 357.35 L428.04 356.92 L428.30 356.50 L428.52 356.13 L428.74 355.73 L428.96 355.33 L429.18 354.94 L429.40 354.59 L429.62 354.30 L429.86 354.10 L430.10 354.00 L430.32 354.02 L430.55 354.11 L430.78 354.28 L431.02 354.49 L431.26 354.74 L431.50 355.00 L431.75 355.26 L432.00 355.50 L432.33 355.84 L432.68 356.27 L433.03 356.73 L433.39 357.19 L433.74 357.63 L434.10 358.00 L434.46 358.27 L434.80 358.40 L435.06 358.41 L435.31 358.36 L435.56 358.26 L435.81 358.12 L436.06 357.95 L436.31 357.75 L436.56 357.53 L436.80 357.30 L437.19 356.88 L437.59 356.40 L437.98 355.84 L438.37 355.22 L438.75 354.55 L439.12 353.84 L439.47 353.09 L439.80 352.30 L440.25 351.01 L440.65 349.54 L441.01 347.95 L441.34 346.28 L441.67 344.57 L441.99 342.87 L442.33 341.23 L442.70 339.70 L443.05 338.42 L443.41 337.17 L443.78 335.94 L444.15 334.74 L444.53 333.55 L444.89 332.36 L445.25 331.18 L445.60 330.00 L445.91 328.89 L446.21 327.79 L446.51 326.70 L446.80 325.62 L447.08 324.53 L447.38 323.44 L447.68 322.33 L448.00 321.20 L448.37 319.95 L448.77 318.70 L449.17 317.43 L449.59 316.16 L450.00 314.86 L450.39 313.54 L450.76 312.18 L451.10 310.80 L451.44 309.19 L451.76 307.53 L452.04 305.85 L452.31 304.13 L452.56 302.38 L452.81 300.60 L453.05 298.81 L453.30 297.00 L453.57 294.99 L453.84 292.98 L454.10 290.95 L454.35 288.89 L454.59 286.78 L454.83 284.60 L455.07 282.35 L455.30 280.00 L455.58 276.77 L455.82 273.31 L456.06 269.69 L456.28 265.97 L456.52 262.24 L456.77 258.55 L457.06 254.98 L457.40 251.60 L457.74 248.84 L458.11 246.15 L458.52 243.53 L458.93 240.95 L459.35 238.41 L459.76 235.88 L460.15 233.35 L460.50 230.80 L460.81 228.34 L461.09 225.91 L461.36 223.48 L461.62 221.07 L461.87 218.65 L462.11 216.22 L462.36 213.78 L462.60 211.30 L462.85 208.67 L463.08 205.99 L463.31 203.28 L463.53 200.57 L463.76 197.86 L463.99 195.18 L464.24 192.56 L464.50 190.00 L464.75 187.76 L465.02 185.55 L465.29 183.38 L465.57 181.24 L465.86 179.11 L466.14 177.00 L466.42 174.90 L466.70 172.80 L466.96 170.76 L467.22 168.70 L467.48 166.63 L467.74 164.58 L468.00 162.57 L468.26 160.62 L468.53 158.76 L468.80 157.00 L469.00 155.72 L469.20 154.47 L469.39 153.26 L469.59 152.08 L469.80 150.96 L470.01 149.90 L470.25 148.91 L470.50 148.00 L470.68 147.40 L470.87 146.77 L471.07 146.15 L471.28 145.57 L471.48 145.07 L471.69 144.66 L471.90 144.40 L472.10 144.30 L472.30 144.39 L472.51 144.66 L472.72 145.06 L472.93 145.56 L473.14 146.14 L473.34 146.76 L473.52 147.39 L473.70 148.00 L473.95 148.99 L474.17 150.10 L474.37 151.29 L474.55 152.56 L474.72 153.88 L474.88 155.24 L475.04 156.62 L475.20 158.00 L475.39 159.70 L475.56 161.47 L475.73 163.29 L475.88 165.15 L476.03 167.04 L476.18 168.95 L476.34 170.88 L476.50 172.80 L476.69 174.88 L476.88 176.97 L477.07 179.07 L477.27 181.20 L477.46 183.36 L477.65 185.54 L477.83 187.75 L478.00 190.00 L478.17 192.56 L478.31 195.19 L478.44 197.86 L478.57 200.57 L478.70 203.28 L478.84 205.99 L479.00 208.67 L479.20 211.30 L479.42 213.78 L479.66 216.22 L479.92 218.65 L480.20 221.07 L480.48 223.48 L480.76 225.90 L481.03 228.34 L481.30 230.80 L481.57 233.37 L481.83 235.95 L482.10 238.55 L482.36 241.16 L482.62 243.77 L482.88 246.38 L483.14 249.00 L483.40 251.60 L483.66 254.21 L483.91 256.84 L484.17 259.48 L484.42 262.11 L484.67 264.73 L484.92 267.32 L485.16 269.88 L485.40 272.40 L485.61 274.66 L485.81 276.87 L486.01 279.04 L486.20 281.20 L486.39 283.36 L486.59 285.53 L486.79 287.74 L487.00 290.00 L487.23 292.52 L487.44 295.08 L487.66 297.68 L487.88 300.30 L488.12 302.93 L488.38 305.57 L488.67 308.19 L489.00 310.80 L489.37 313.42 L489.78 316.07 L490.22 318.72 L490.68 321.36 L491.16 323.99 L491.66 326.58 L492.18 329.12 L492.70 331.60 L493.19 333.80 L493.70 335.98 L494.23 338.15 L494.77 340.27 L495.31 342.35 L495.85 344.37 L496.39 346.33 L496.90 348.20 L497.30 349.64 L497.70 351.06 L498.09 352.44 L498.48 353.77 L498.87 355.06 L499.25 356.30 L499.63 357.48 L500.00 358.60 L500.28 359.39 L500.56 360.18 L500.84 360.95 L501.12 361.69 L501.40 362.38 L501.65 363.00 L501.89 363.55 L502.10 364.00 L502.19 364.17 L502.26 364.31 L502.34 364.44 L502.41 364.56 L502.48 364.66 L502.55 364.77 L502.63 364.88 L502.70 365.00 L502.70 365.00 Z" fill="#619CFF" fill-opacity="0.30" stroke="#619CFF" stroke-width="1.90" stroke-linejoin="round"/>
<text transform="translate(392.90 371.15) scale(1.000 0.940)" class="ax" text-anchor="end">0.0</text>
<text transform="translate(392.90 294.25) scale(1.000 0.940)" class="ax" text-anchor="end">2.5</text>
<text transform="translate(392.90 217.35) scale(1.000 0.940)" class="ax" text-anchor="end">5.0</text>
<text transform="translate(392.90 140.45) scale(1.000 0.940)" class="ax" text-anchor="end">7.5</text>
<text transform="translate(392.90 63.55) scale(1.000 0.940)" class="ax" text-anchor="end">10.0</text>
<text transform="translate(420.40 401.70) scale(1.000 0.940)" class="ax" text-anchor="middle">0.1</text>
<text transform="translate(440.45 401.70) scale(1.000 0.940)" class="ax" text-anchor="middle">0.2</text>
<text transform="translate(460.50 401.70) scale(1.000 0.940)" class="ax" text-anchor="middle">0.3</text>
<text transform="translate(480.55 401.70) scale(1.000 0.940)" class="ax" text-anchor="middle">0.4</text>
<text transform="translate(500.60 401.70) scale(1.000 0.940)" class="ax" text-anchor="middle">0.5</text>
<text transform="translate(455.10 424.80) scale(1.000 1.060)" class="at" text-anchor="middle">h2</text>
<text transform="translate(336.20 30.00) scale(0.930 1.000)" class="lt">B</text>
<text x="401.70" y="26.70" class="ti">Scar</text>
<text transform="translate(536.80 167.50) scale(1.000 1.060)" class="at">Heritabilities</text>
<rect x="537.35" y="180.80" width="28.6" height="28.2" fill="#F8766D" fill-opacity="0.30" stroke="#F8766D" stroke-width="1.90"/>
<text transform="translate(577.35 202.00) scale(1.000 1.030)" class="lg">D 0.12</text>
<rect x="537.35" y="212.05" width="28.6" height="28.2" fill="#00BA38" fill-opacity="0.30" stroke="#00BA38" stroke-width="1.90"/>
<text transform="translate(577.35 233.25) scale(1.000 1.030)" class="lg">E 0.18</text>
<rect x="537.35" y="243.30" width="28.6" height="28.2" fill="#619CFF" fill-opacity="0.30" stroke="#619CFF" stroke-width="1.90"/>
<text transform="translate(577.35 264.50) scale(1.000 1.030)" class="lg">G 0.34</text>
<line x1="727.33" y1="41.80" x2="727.33" y2="380.40" stroke="#EBEBEB" stroke-width="0.95"/>
<line x1="755.27" y1="41.80" x2="755.27" y2="380.40" stroke="#EBEBEB" stroke-width="0.95"/>
<line x1="783.20" y1="41.80" x2="783.20" y2="380.40" stroke="#EBEBEB" stroke-width="0.95"/>
<line x1="811.13" y1="41.80" x2="811.13" y2="380.40" stroke="#EBEBEB" stroke-width="0.95"/>
<line x1="839.07" y1="41.80" x2="839.07" y2="380.40" stroke="#EBEBEB" stroke-width="0.95"/>
<line x1="716.30" y1="322.75" x2="844.00" y2="322.75" stroke="#EBEBEB" stroke-width="0.95"/>
<line x1="716.30" y1="238.23" x2="844.00" y2="238.23" stroke="#EBEBEB" stroke-width="0.95"/>
<line x1="716.30" y1="153.72" x2="844.00" y2="153.72" stroke="#EBEBEB" stroke-width="0.95"/>
<line x1="716.30" y1="69.21" x2="844.00" y2="69.21" stroke="#EBEBEB" stroke-width="0.95"/>
<line x1="741.30" y1="41.80" x2="741.30" y2="380.40" stroke="#EBEBEB" stroke-width="1.9"/>
<line x1="769.23" y1="41.80" x2="769.23" y2="380.40" stroke="#EBEBEB" stroke-width="1.9"/>
<line x1="797.17" y1="41.80" x2="797.17" y2="380.40" stroke="#EBEBEB" stroke-width="1.9"/>
<line x1="825.10" y1="41.80" x2="825.10" y2="380.40" stroke="#EBEBEB" stroke-width="1.9"/>
<line x1="716.30" y1="365.00" x2="844.00" y2="365.00" stroke="#EBEBEB" stroke-width="1.9"/>
<line x1="716.30" y1="280.49" x2="844.00" y2="280.49" stroke="#EBEBEB" stroke-width="1.9"/>
<line x1="716.30" y1="195.98" x2="844.00" y2="195.98" stroke="#EBEBEB" stroke-width="1.9"/>
<line x1="716.30" y1="111.47" x2="844.00" y2="111.47" stroke="#EBEBEB" stroke-width="1.9"/>
<path d="M722.50 365.00 L722.50 365.00 L722.51 363.37 L722.51 361.74 L722.50 360.10 L722.50 358.47 L722.50 356.84 L722.52 355.21 L722.55 353.60 L722.60 352.00 L722.68 350.51 L722.78 349.07 L722.89 347.66 L723.02 346.24 L723.15 344.80 L723.28 343.30 L723.40 341.71 L723.50 340.00 L723.62 337.30 L723.72 334.36 L723.81 331.25 L723.89 328.00 L723.96 324.70 L724.03 321.39 L724.11 318.14 L724.20 315.00 L724.29 312.10 L724.38 309.27 L724.47 306.47 L724.57 303.68 L724.66 300.86 L724.77 297.99 L724.88 295.05 L725.00 292.00 L725.16 288.26 L725.33 284.40 L725.52 280.45 L725.72 276.42 L725.92 272.34 L726.12 268.22 L726.31 264.10 L726.50 260.00 L726.70 255.63 L726.90 251.13 L727.10 246.56 L727.30 241.99 L727.49 237.48 L727.67 233.10 L727.84 228.92 L728.00 225.00 L728.11 222.26 L728.20 219.70 L728.29 217.27 L728.38 214.91 L728.46 212.55 L728.54 210.15 L728.62 207.66 L728.70 205.00 L728.79 201.51 L728.88 197.81 L728.97 193.98 L729.05 190.07 L729.14 186.15 L729.22 182.29 L729.31 178.55 L729.40 175.00 L729.48 172.15 L729.56 169.40 L729.64 166.72 L729.72 164.09 L729.81 161.47 L729.90 158.86 L730.00 156.21 L730.10 153.50 L730.22 150.59 L730.35 147.63 L730.48 144.63 L730.62 141.63 L730.77 138.64 L730.91 135.69 L731.06 132.80 L731.20 130.00 L731.32 127.63 L731.44 125.37 L731.56 123.17 L731.68 120.99 L731.80 118.80 L731.93 116.54 L732.06 114.19 L732.20 111.70 L732.39 108.22 L732.60 104.47 L732.81 100.53 L733.04 96.50 L733.26 92.49 L733.48 88.59 L733.70 84.89 L733.90 81.50 L734.04 79.15 L734.17 76.87 L734.30 74.66 L734.43 72.52 L734.56 70.48 L734.69 68.54 L734.84 66.71 L735.00 65.00 L735.11 63.85 L735.23 62.63 L735.34 61.41 L735.46 60.26 L735.58 59.25 L735.71 58.44 L735.85 57.90 L736.00 57.70 L736.14 57.83 L736.28 58.20 L736.43 58.76 L736.59 59.48 L736.75 60.30 L736.90 61.19 L737.05 62.11 L737.20 63.00 L737.46 64.74 L737.72 66.72 L737.97 68.91 L738.21 71.26 L738.45 73.73 L738.67 76.29 L738.89 78.89 L739.10 81.50 L739.35 84.99 L739.57 88.77 L739.78 92.73 L739.98 96.77 L740.17 100.79 L740.35 104.69 L740.53 108.36 L740.70 111.70 L740.81 113.92 L740.91 116.08 L741.01 118.18 L741.10 120.20 L741.19 122.11 L741.31 123.89 L741.44 125.53 L741.60 127.00 L741.70 127.76 L741.81 128.44 L741.92 129.07 L742.04 129.66 L742.17 130.24 L742.30 130.80 L742.44 131.39 L742.60 132.00 L742.78 132.68 L742.97 133.38 L743.17 134.08 L743.39 134.78 L743.61 135.48 L743.83 136.17 L744.06 136.84 L744.30 137.50 L744.53 138.09 L744.77 138.65 L745.02 139.21 L745.28 139.76 L745.53 140.31 L745.77 140.86 L745.99 141.42 L746.20 142.00 L746.39 142.58 L746.56 143.14 L746.71 143.70 L746.85 144.26 L746.99 144.86 L747.12 145.50 L747.26 146.21 L747.40 147.00 L747.68 148.79 L747.96 150.87 L748.23 153.19 L748.50 155.69 L748.76 158.32 L749.01 161.03 L749.26 163.78 L749.50 166.50 L749.79 169.97 L750.06 173.67 L750.33 177.51 L750.58 181.44 L750.83 185.35 L751.06 189.19 L751.29 192.86 L751.50 196.30 L751.66 198.88 L751.80 201.40 L751.93 203.85 L752.06 206.24 L752.19 208.55 L752.32 210.79 L752.45 212.94 L752.60 215.00 L752.72 216.47 L752.83 217.83 L752.95 219.11 L753.06 220.37 L753.19 221.63 L753.32 222.93 L753.45 224.30 L753.60 225.80 L753.82 228.07 L754.07 230.50 L754.33 233.07 L754.60 235.73 L754.88 238.44 L755.16 241.17 L755.43 243.86 L755.70 246.50 L755.97 249.10 L756.23 251.70 L756.51 254.30 L756.78 256.90 L757.04 259.50 L757.30 262.10 L757.56 264.70 L757.80 267.30 L758.01 269.93 L758.18 272.61 L758.33 275.31 L758.48 278.00 L758.65 280.65 L758.87 283.22 L759.14 285.68 L759.50 288.00 L759.85 289.72 L760.24 291.37 L760.68 292.95 L761.14 294.48 L761.61 295.98 L762.09 297.46 L762.56 298.93 L763.00 300.40 L763.38 301.75 L763.75 303.07 L764.12 304.38 L764.48 305.67 L764.85 306.96 L765.24 308.24 L765.66 309.52 L766.10 310.80 L766.59 312.11 L767.12 313.41 L767.68 314.71 L768.26 316.01 L768.84 317.31 L769.41 318.60 L769.97 319.90 L770.50 321.20 L771.00 322.49 L771.49 323.77 L771.96 325.06 L772.43 326.34 L772.89 327.63 L773.36 328.92 L773.82 330.21 L774.30 331.50 L774.77 332.80 L775.24 334.10 L775.69 335.41 L776.16 336.72 L776.63 338.02 L777.12 339.32 L777.64 340.61 L778.20 341.90 L778.82 343.22 L779.47 344.55 L780.16 345.88 L780.87 347.20 L781.59 348.51 L782.30 349.80 L783.01 351.06 L783.70 352.30 L784.31 353.41 L784.91 354.52 L785.52 355.62 L786.12 356.70 L786.72 357.75 L787.31 358.75 L787.91 359.71 L788.50 360.60 L788.95 361.23 L789.41 361.82 L789.86 362.38 L790.31 362.91 L790.75 363.43 L791.20 363.94 L791.65 364.46 L792.10 365.00 L792.10 365.00 Z" fill="#F8766D" fill-opacity="0.30" stroke="#F8766D" stroke-width="1.90" stroke-linejoin="round"/>
<path d="M721.80 365.00 L721.80 365.00 L721.81 363.99 L721.81 362.96 L721.81 361.92 L721.81 360.88 L721.82 359.86 L721.83 358.87 L721.86 357.91 L721.90 357.00 L721.94 356.33 L721.99 355.71 L722.04 355.11 L722.09 354.53 L722.16 353.95 L722.23 353.34 L722.31 352.70 L722.40 352.00 L722.55 350.91 L722.72 349.74 L722.91 348.51 L723.11 347.23 L723.33 345.92 L723.55 344.60 L723.78 343.28 L724.00 342.00 L724.24 340.72 L724.49 339.48 L724.75 338.24 L725.01 336.99 L725.27 335.71 L725.53 334.39 L725.77 332.99 L726.00 331.50 L726.29 329.25 L726.55 326.82 L726.80 324.26 L727.03 321.59 L727.26 318.88 L727.47 316.14 L727.68 313.44 L727.90 310.80 L728.12 308.21 L728.33 305.63 L728.55 303.05 L728.75 300.46 L728.95 297.87 L729.14 295.27 L729.33 292.64 L729.50 290.00 L729.66 287.20 L729.80 284.37 L729.92 281.52 L730.04 278.65 L730.15 275.78 L730.28 272.93 L730.43 270.10 L730.60 267.30 L730.79 264.65 L730.99 262.03 L731.21 259.43 L731.44 256.84 L731.67 254.25 L731.91 251.67 L732.16 249.09 L732.40 246.50 L732.65 243.86 L732.90 241.16 L733.17 238.44 L733.43 235.73 L733.70 233.07 L733.97 230.50 L734.24 228.07 L734.50 225.80 L734.68 224.28 L734.86 222.84 L735.04 221.47 L735.21 220.15 L735.40 218.86 L735.58 217.58 L735.78 216.30 L736.00 215.00 L736.22 213.72 L736.46 212.45 L736.70 211.18 L736.96 209.92 L737.21 208.67 L737.48 207.43 L737.74 206.21 L738.00 205.00 L738.24 203.88 L738.47 202.76 L738.71 201.63 L738.94 200.53 L739.19 199.45 L739.44 198.41 L739.71 197.42 L740.00 196.50 L740.22 195.83 L740.45 195.17 L740.68 194.53 L740.92 193.91 L741.17 193.34 L741.43 192.82 L741.70 192.37 L742.00 192.00 L742.20 191.81 L742.40 191.63 L742.61 191.48 L742.82 191.35 L743.04 191.24 L743.26 191.17 L743.48 191.12 L743.70 191.10 L743.92 191.11 L744.16 191.16 L744.39 191.23 L744.62 191.34 L744.85 191.47 L745.08 191.62 L745.29 191.80 L745.50 192.00 L745.80 192.37 L746.08 192.82 L746.34 193.34 L746.59 193.91 L746.83 194.53 L747.05 195.17 L747.28 195.83 L747.50 196.50 L747.79 197.42 L748.06 198.41 L748.31 199.45 L748.56 200.53 L748.79 201.63 L749.03 202.76 L749.26 203.88 L749.50 205.00 L749.76 206.21 L750.01 207.43 L750.26 208.67 L750.51 209.92 L750.76 211.18 L751.00 212.45 L751.25 213.73 L751.50 215.00 L751.76 216.33 L752.01 217.65 L752.25 218.99 L752.50 220.33 L752.76 221.68 L753.02 223.04 L753.30 224.41 L753.60 225.80 L753.94 227.33 L754.30 228.91 L754.66 230.51 L755.05 232.12 L755.44 233.71 L755.85 235.27 L756.27 236.77 L756.70 238.20 L757.07 239.30 L757.45 240.31 L757.83 241.28 L758.23 242.22 L758.63 243.18 L759.04 244.19 L759.47 245.29 L759.90 246.50 L760.60 248.67 L761.32 251.12 L762.07 253.78 L762.84 256.55 L763.63 259.37 L764.44 262.16 L765.26 264.83 L766.10 267.30 L766.83 269.30 L767.57 271.27 L768.31 273.20 L769.08 275.09 L769.86 276.91 L770.65 278.66 L771.47 280.33 L772.30 281.90 L772.99 283.05 L773.71 284.10 L774.44 285.09 L775.19 286.04 L775.92 286.98 L776.65 287.94 L777.34 288.93 L778.00 290.00 L778.65 291.22 L779.25 292.48 L779.81 293.78 L780.36 295.11 L780.91 296.44 L781.47 297.78 L782.06 299.10 L782.70 300.40 L783.41 301.72 L784.15 303.02 L784.92 304.32 L785.71 305.62 L786.51 306.92 L787.31 308.21 L788.11 309.50 L788.90 310.80 L789.68 312.10 L790.45 313.41 L791.22 314.71 L792.00 316.02 L792.78 317.32 L793.57 318.62 L794.37 319.91 L795.20 321.20 L796.07 322.50 L796.99 323.78 L797.92 325.06 L798.86 326.33 L799.80 327.61 L800.71 328.89 L801.58 330.19 L802.40 331.50 L803.13 332.78 L803.82 334.07 L804.47 335.36 L805.11 336.67 L805.72 337.98 L806.34 339.29 L806.96 340.60 L807.60 341.90 L808.25 343.21 L808.89 344.53 L809.53 345.86 L810.17 347.19 L810.81 348.50 L811.47 349.80 L812.13 351.07 L812.80 352.30 L813.42 353.42 L814.04 354.54 L814.67 355.64 L815.30 356.73 L815.95 357.78 L816.61 358.78 L817.29 359.73 L818.00 360.60 L818.61 361.26 L819.24 361.86 L819.89 362.42 L820.55 362.94 L821.22 363.45 L821.88 363.95 L822.54 364.47 L823.20 365.00 L823.20 365.00 Z" fill="#00BA38" fill-opacity="0.30" stroke="#00BA38" stroke-width="1.90" stroke-linejoin="round"/>
<path d="M722.50 365.00 L722.50 365.00 L722.81 364.96 L723.11 364.94 L723.42 364.92 L723.72 364.90 L724.03 364.86 L724.34 364.81 L724.67 364.72 L725.00 364.60 L725.53 364.35 L726.10 364.03 L726.68 363.65 L727.28 363.22 L727.88 362.74 L728.48 362.22 L729.05 361.68 L729.60 361.10 L730.26 360.31 L730.89 359.43 L731.51 358.47 L732.11 357.46 L732.70 356.42 L733.28 355.37 L733.84 354.32 L734.40 353.30 L734.95 352.28 L735.49 351.23 L736.02 350.16 L736.53 349.09 L737.04 348.03 L737.54 346.99 L738.02 345.98 L738.50 345.00 L738.90 344.21 L739.29 343.44 L739.67 342.70 L740.04 341.97 L740.41 341.25 L740.77 340.52 L741.14 339.77 L741.50 339.00 L741.89 338.16 L742.27 337.30 L742.65 336.43 L743.03 335.56 L743.40 334.67 L743.77 333.78 L744.14 332.89 L744.50 332.00 L744.86 331.09 L745.22 330.17 L745.57 329.25 L745.92 328.32 L746.27 327.40 L746.61 326.47 L746.96 325.53 L747.30 324.60 L747.64 323.65 L747.97 322.69 L748.29 321.72 L748.62 320.75 L748.94 319.79 L749.28 318.84 L749.63 317.91 L750.00 317.00 L750.35 316.19 L750.72 315.41 L751.09 314.65 L751.46 313.89 L751.85 313.14 L752.25 312.38 L752.67 311.60 L753.10 310.80 L753.62 309.81 L754.16 308.77 L754.71 307.69 L755.29 306.60 L755.88 305.53 L756.48 304.51 L757.08 303.56 L757.70 302.70 L758.19 302.10 L758.70 301.55 L759.22 301.04 L759.74 300.56 L760.26 300.10 L760.78 299.64 L761.30 299.18 L761.80 298.70 L762.27 298.23 L762.74 297.77 L763.20 297.31 L763.66 296.85 L764.12 296.39 L764.58 295.93 L765.04 295.46 L765.50 295.00 L765.97 294.54 L766.44 294.09 L766.91 293.65 L767.39 293.20 L767.86 292.74 L768.34 292.26 L768.82 291.75 L769.30 291.20 L769.93 290.44 L770.57 289.63 L771.22 288.77 L771.87 287.87 L772.52 286.95 L773.16 285.99 L773.79 285.00 L774.40 284.00 L775.09 282.82 L775.77 281.61 L776.44 280.36 L777.10 279.07 L777.74 277.75 L778.38 276.38 L779.00 274.96 L779.60 273.50 L780.31 271.64 L780.98 269.69 L781.63 267.66 L782.26 265.58 L782.88 263.45 L783.51 261.28 L784.14 259.09 L784.80 256.90 L785.56 254.37 L786.34 251.71 L787.12 248.98 L787.92 246.23 L788.71 243.52 L789.49 240.91 L790.25 238.45 L791.00 236.20 L791.51 234.71 L792.01 233.28 L792.50 231.90 L792.98 230.59 L793.46 229.34 L793.96 228.15 L794.47 227.04 L795.00 226.00 L795.39 225.27 L795.79 224.52 L796.19 223.79 L796.59 223.11 L797.01 222.50 L797.43 221.99 L797.86 221.62 L798.30 221.40 L798.63 221.35 L798.97 221.38 L799.32 221.48 L799.67 221.62 L800.02 221.81 L800.36 222.03 L800.69 222.26 L801.00 222.50 L801.35 222.79 L801.68 223.12 L801.99 223.48 L802.30 223.87 L802.60 224.30 L802.89 224.76 L803.19 225.26 L803.50 225.80 L804.01 226.78 L804.53 227.87 L805.05 229.08 L805.57 230.37 L806.08 231.75 L806.60 233.18 L807.10 234.67 L807.60 236.20 L808.28 238.43 L808.96 240.85 L809.63 243.42 L810.30 246.08 L810.95 248.80 L811.58 251.54 L812.20 254.25 L812.80 256.90 L813.38 259.51 L813.94 262.13 L814.48 264.77 L815.01 267.41 L815.53 270.03 L816.03 272.63 L816.52 275.19 L817.00 277.70 L817.42 279.94 L817.82 282.15 L818.21 284.34 L818.58 286.50 L818.96 288.64 L819.33 290.77 L819.71 292.89 L820.10 295.00 L820.48 297.00 L820.85 298.95 L821.23 300.89 L821.61 302.81 L821.99 304.75 L822.38 306.72 L822.79 308.73 L823.20 310.80 L823.69 313.27 L824.19 315.83 L824.71 318.46 L825.23 321.12 L825.77 323.78 L826.31 326.42 L826.85 329.00 L827.40 331.50 L827.90 333.72 L828.40 335.95 L828.90 338.16 L829.42 340.34 L829.93 342.46 L830.45 344.49 L830.97 346.41 L831.50 348.20 L831.88 349.40 L832.25 350.54 L832.62 351.64 L832.99 352.68 L833.37 353.69 L833.76 354.65 L834.17 355.59 L834.60 356.50 L834.98 357.25 L835.40 357.99 L835.83 358.72 L836.27 359.42 L836.70 360.08 L837.10 360.69 L837.48 361.23 L837.80 361.70 L837.95 361.90 L838.10 362.08 L838.25 362.24 L838.39 362.38 L838.51 362.52 L838.63 362.66 L838.72 362.82 L838.80 363.00 L838.86 363.22 L838.88 363.46 L838.88 363.71 L838.87 363.96 L838.85 364.22 L838.83 364.49 L838.81 364.75 L838.80 365.00 L838.80 365.00 Z" fill="#619CFF" fill-opacity="0.30" stroke="#619CFF" stroke-width="1.90" stroke-linejoin="round"/>
<text transform="translate(707.00 371.15) scale(1.000 0.940)" class="ax" text-anchor="end">0</text>
<text transform="translate(707.00 286.64) scale(1.000 0.940)" class="ax" text-anchor="end">3</text>
<text transform="translate(707.00 202.13) scale(1.000 0.940)" class="ax" text-anchor="end">6</text>
<text transform="translate(707.00 117.62) scale(1.000 0.940)" class="ax" text-anchor="end">9</text>
<text transform="translate(741.30 401.70) scale(1.000 0.940)" class="ax" text-anchor="middle">0.1</text>
<text transform="translate(769.23 401.70) scale(1.000 0.940)" class="ax" text-anchor="middle">0.2</text>
<text transform="translate(797.17 401.70) scale(1.000 0.940)" class="ax" text-anchor="middle">0.3</text>
<text transform="translate(825.10 401.70) scale(1.000 0.940)" class="ax" text-anchor="middle">0.4</text>
<text transform="translate(781.05 424.80) scale(1.000 1.060)" class="at" text-anchor="middle">h2</text>
<text transform="translate(671.90 30.00) scale(0.930 1.000)" class="lt">C</text>
<text x="717.10" y="26.70" class="ti">Size</text>
<text transform="translate(874.35 167.50) scale(1.000 1.060)" class="at">Heritabilities</text>
<rect x="874.90" y="180.80" width="28.6" height="28.2" fill="#F8766D" fill-opacity="0.30" stroke="#F8766D" stroke-width="1.90"/>
<text transform="translate(914.90 202.00) scale(1.000 1.030)" class="lg">D 0.11</text>
<rect x="874.90" y="212.05" width="28.6" height="28.2" fill="#00BA38" fill-opacity="0.30" stroke="#00BA38" stroke-width="1.90"/>
<text transform="translate(914.90 233.25) scale(1.000 1.030)" class="lg">E 0.16</text>
<rect x="874.90" y="243.30" width="28.6" height="28.2" fill="#619CFF" fill-opacity="0.30" stroke="#619CFF" stroke-width="1.90"/>
<text transform="translate(914.90 264.50) scale(1.000 1.030)" class="lg">G 0.27</text>
<line x1="1064.74" y1="41.80" x2="1064.74" y2="380.40" stroke="#EBEBEB" stroke-width="0.95"/>
<line x1="1088.66" y1="41.80" x2="1088.66" y2="380.40" stroke="#EBEBEB" stroke-width="0.95"/>
<line x1="1112.59" y1="41.80" x2="1112.59" y2="380.40" stroke="#EBEBEB" stroke-width="0.95"/>
<line x1="1136.51" y1="41.80" x2="1136.51" y2="380.40" stroke="#EBEBEB" stroke-width="0.95"/>
<line x1="1160.44" y1="41.80" x2="1160.44" y2="380.40" stroke="#EBEBEB" stroke-width="0.95"/>
<line x1="1054.40" y1="316.48" x2="1181.30" y2="316.48" stroke="#EBEBEB" stroke-width="0.95"/>
<line x1="1054.40" y1="219.44" x2="1181.30" y2="219.44" stroke="#EBEBEB" stroke-width="0.95"/>
<line x1="1054.40" y1="122.40" x2="1181.30" y2="122.40" stroke="#EBEBEB" stroke-width="0.95"/>
<line x1="1076.70" y1="41.80" x2="1076.70" y2="380.40" stroke="#EBEBEB" stroke-width="1.9"/>
<line x1="1100.62" y1="41.80" x2="1100.62" y2="380.40" stroke="#EBEBEB" stroke-width="1.9"/>
<line x1="1124.55" y1="41.80" x2="1124.55" y2="380.40" stroke="#EBEBEB" stroke-width="1.9"/>
<line x1="1148.48" y1="41.80" x2="1148.48" y2="380.40" stroke="#EBEBEB" stroke-width="1.9"/>
<line x1="1172.40" y1="41.80" x2="1172.40" y2="380.40" stroke="#EBEBEB" stroke-width="1.9"/>
<line x1="1054.40" y1="365.00" x2="1181.30" y2="365.00" stroke="#EBEBEB" stroke-width="1.9"/>
<line x1="1054.40" y1="267.96" x2="1181.30" y2="267.96" stroke="#EBEBEB" stroke-width="1.9"/>
<line x1="1054.40" y1="170.92" x2="1181.30" y2="170.92" stroke="#EBEBEB" stroke-width="1.9"/>
<line x1="1054.40" y1="73.88" x2="1181.30" y2="73.88" stroke="#EBEBEB" stroke-width="1.9"/>
<path d="M1059.60 365.00 L1059.60 365.00 L1059.61 361.86 L1059.62 358.68 L1059.63 355.50 L1059.63 352.33 L1059.64 349.17 L1059.66 346.05 L1059.68 342.99 L1059.70 340.00 L1059.73 337.43 L1059.75 334.97 L1059.79 332.58 L1059.82 330.21 L1059.86 327.81 L1059.90 325.34 L1059.95 322.75 L1060.00 320.00 L1060.07 316.05 L1060.15 311.80 L1060.24 307.33 L1060.33 302.74 L1060.43 298.12 L1060.54 293.56 L1060.66 289.16 L1060.80 285.00 L1060.93 281.67 L1061.07 278.44 L1061.23 275.28 L1061.39 272.19 L1061.55 269.13 L1061.71 266.10 L1061.86 263.06 L1062.00 260.00 L1062.12 257.02 L1062.24 254.05 L1062.35 251.09 L1062.45 248.14 L1062.56 245.20 L1062.66 242.28 L1062.78 239.38 L1062.90 236.50 L1063.03 233.76 L1063.17 231.04 L1063.31 228.33 L1063.45 225.64 L1063.60 222.96 L1063.74 220.30 L1063.87 217.64 L1064.00 215.00 L1064.12 212.47 L1064.23 209.98 L1064.34 207.50 L1064.44 205.03 L1064.54 202.56 L1064.63 200.07 L1064.72 197.56 L1064.80 195.00 L1064.87 192.22 L1064.92 189.40 L1064.96 186.55 L1064.99 183.68 L1065.02 180.80 L1065.06 177.94 L1065.12 175.10 L1065.20 172.30 L1065.29 169.66 L1065.40 167.04 L1065.51 164.45 L1065.63 161.86 L1065.76 159.28 L1065.90 156.70 L1066.05 154.11 L1066.20 151.50 L1066.37 148.81 L1066.55 146.09 L1066.74 143.36 L1066.94 140.63 L1067.15 137.91 L1067.34 135.22 L1067.53 132.58 L1067.70 130.00 L1067.83 127.76 L1067.95 125.58 L1068.06 123.44 L1068.17 121.33 L1068.28 119.22 L1068.40 117.09 L1068.54 114.92 L1068.70 112.70 L1068.91 110.19 L1069.15 107.62 L1069.41 105.01 L1069.68 102.38 L1069.96 99.75 L1070.25 97.13 L1070.53 94.54 L1070.80 92.00 L1071.05 89.63 L1071.30 87.25 L1071.54 84.87 L1071.79 82.52 L1072.04 80.21 L1072.29 77.96 L1072.54 75.78 L1072.80 73.70 L1073.00 72.08 L1073.20 70.47 L1073.40 68.89 L1073.60 67.36 L1073.81 65.89 L1074.02 64.49 L1074.25 63.19 L1074.50 62.00 L1074.67 61.23 L1074.85 60.42 L1075.03 59.62 L1075.22 58.87 L1075.41 58.21 L1075.61 57.68 L1075.80 57.33 L1076.00 57.20 L1076.18 57.29 L1076.38 57.55 L1076.57 57.95 L1076.77 58.47 L1076.96 59.06 L1077.15 59.70 L1077.33 60.36 L1077.50 61.00 L1077.76 62.21 L1077.99 63.58 L1078.19 65.10 L1078.38 66.73 L1078.55 68.43 L1078.72 70.18 L1078.90 71.95 L1079.10 73.70 L1079.36 75.82 L1079.62 78.01 L1079.90 80.27 L1080.17 82.57 L1080.45 84.91 L1080.71 87.26 L1080.96 89.63 L1081.20 92.00 L1081.44 94.55 L1081.66 97.17 L1081.88 99.83 L1082.08 102.51 L1082.28 105.16 L1082.46 107.76 L1082.64 110.29 L1082.80 112.70 L1082.92 114.61 L1083.03 116.44 L1083.13 118.22 L1083.22 119.96 L1083.31 121.69 L1083.40 123.43 L1083.50 125.19 L1083.60 127.00 L1083.72 128.98 L1083.83 131.00 L1083.95 133.05 L1084.07 135.11 L1084.19 137.15 L1084.32 139.17 L1084.46 141.12 L1084.60 143.00 L1084.72 144.69 L1084.85 146.55 L1084.98 148.46 L1085.11 150.30 L1085.25 151.95 L1085.39 153.28 L1085.54 154.17 L1085.70 154.50 L1085.85 154.27 L1086.00 153.63 L1086.17 152.66 L1086.34 151.45 L1086.51 150.09 L1086.68 148.68 L1086.84 147.28 L1087.00 146.00 L1087.19 144.39 L1087.36 142.64 L1087.52 140.81 L1087.68 138.94 L1087.85 137.08 L1088.03 135.27 L1088.25 133.56 L1088.50 132.00 L1088.70 130.90 L1088.91 129.81 L1089.13 128.75 L1089.36 127.73 L1089.61 126.77 L1089.88 125.90 L1090.18 125.14 L1090.50 124.50 L1090.70 124.19 L1090.91 123.88 L1091.14 123.59 L1091.36 123.34 L1091.59 123.13 L1091.81 122.98 L1092.02 122.90 L1092.20 122.90 L1092.44 123.09 L1092.64 123.48 L1092.82 124.04 L1092.97 124.73 L1093.11 125.51 L1093.24 126.34 L1093.37 127.18 L1093.50 128.00 L1093.69 129.33 L1093.85 130.79 L1093.99 132.36 L1094.11 134.03 L1094.23 135.76 L1094.37 137.55 L1094.52 139.37 L1094.70 141.20 L1094.98 143.57 L1095.29 146.05 L1095.62 148.62 L1095.98 151.26 L1096.34 153.93 L1096.71 156.61 L1097.06 159.28 L1097.40 161.90 L1097.73 164.53 L1098.05 167.22 L1098.37 169.93 L1098.69 172.64 L1099.01 175.30 L1099.31 177.88 L1099.61 180.36 L1099.90 182.70 L1100.11 184.37 L1100.32 185.93 L1100.52 187.41 L1100.72 188.85 L1100.91 190.29 L1101.11 191.77 L1101.30 193.33 L1101.50 195.00 L1101.76 197.34 L1102.00 199.82 L1102.25 202.40 L1102.50 205.06 L1102.75 207.77 L1103.02 210.48 L1103.30 213.17 L1103.60 215.80 L1103.92 218.39 L1104.25 220.98 L1104.59 223.57 L1104.95 226.16 L1105.32 228.74 L1105.70 231.33 L1106.09 233.91 L1106.50 236.50 L1106.93 239.08 L1107.39 241.63 L1107.87 244.17 L1108.35 246.71 L1108.84 249.27 L1109.32 251.88 L1109.77 254.55 L1110.20 257.30 L1110.65 260.60 L1111.07 264.03 L1111.46 267.57 L1111.85 271.15 L1112.22 274.73 L1112.60 278.26 L1112.99 281.70 L1113.40 285.00 L1113.77 287.75 L1114.13 290.42 L1114.50 293.03 L1114.87 295.60 L1115.25 298.14 L1115.65 300.68 L1116.06 303.23 L1116.50 305.80 L1116.96 308.39 L1117.43 310.99 L1117.92 313.58 L1118.42 316.16 L1118.94 318.75 L1119.48 321.33 L1120.03 323.92 L1120.60 326.50 L1121.19 329.14 L1121.79 331.84 L1122.41 334.55 L1123.04 337.26 L1123.69 339.92 L1124.37 342.50 L1125.07 344.97 L1125.80 347.30 L1126.42 349.07 L1127.09 350.80 L1127.78 352.49 L1128.49 354.11 L1129.18 355.66 L1129.84 357.14 L1130.46 358.52 L1131.00 359.80 L1131.31 360.56 L1131.59 361.26 L1131.86 361.91 L1132.11 362.54 L1132.36 363.15 L1132.60 363.75 L1132.84 364.37 L1133.10 365.00 L1133.10 365.00 Z" fill="#F8766D" fill-opacity="0.30" stroke="#F8766D" stroke-width="1.90" stroke-linejoin="round"/>
<path d="M1059.00 365.00 L1059.00 365.00 L1059.38 364.35 L1059.77 363.73 L1060.15 363.11 L1060.54 362.49 L1060.92 361.85 L1061.30 361.19 L1061.66 360.47 L1062.00 359.70 L1062.44 358.55 L1062.87 357.31 L1063.27 355.99 L1063.65 354.61 L1064.02 353.18 L1064.37 351.73 L1064.69 350.26 L1065.00 348.80 L1065.31 347.16 L1065.59 345.49 L1065.84 343.78 L1066.07 342.05 L1066.29 340.30 L1066.49 338.53 L1066.69 336.77 L1066.90 335.00 L1067.11 333.17 L1067.29 331.35 L1067.47 329.53 L1067.64 327.70 L1067.81 325.84 L1067.99 323.94 L1068.19 322.00 L1068.40 320.00 L1068.69 317.54 L1069.01 314.98 L1069.35 312.35 L1069.70 309.67 L1070.05 306.97 L1070.39 304.28 L1070.71 301.61 L1071.00 299.00 L1071.25 296.53 L1071.48 294.09 L1071.70 291.66 L1071.90 289.24 L1072.10 286.82 L1072.30 284.39 L1072.49 281.96 L1072.70 279.50 L1072.92 276.96 L1073.13 274.40 L1073.35 271.82 L1073.56 269.24 L1073.78 266.66 L1073.99 264.09 L1074.20 261.53 L1074.40 259.00 L1074.60 256.57 L1074.79 254.16 L1074.98 251.77 L1075.17 249.38 L1075.35 246.99 L1075.54 244.61 L1075.72 242.21 L1075.90 239.80 L1076.08 237.34 L1076.26 234.87 L1076.44 232.40 L1076.61 229.93 L1076.79 227.45 L1076.96 224.96 L1077.13 222.48 L1077.30 220.00 L1077.47 217.53 L1077.64 215.08 L1077.81 212.65 L1077.98 210.21 L1078.14 207.74 L1078.30 205.23 L1078.45 202.66 L1078.60 200.00 L1078.75 196.73 L1078.88 193.30 L1079.00 189.77 L1079.11 186.18 L1079.22 182.59 L1079.35 179.05 L1079.51 175.60 L1079.70 172.30 L1079.89 169.56 L1080.11 166.89 L1080.34 164.28 L1080.58 161.71 L1080.83 159.16 L1081.09 156.63 L1081.35 154.08 L1081.60 151.50 L1081.85 148.88 L1082.11 146.20 L1082.36 143.51 L1082.62 140.83 L1082.89 138.19 L1083.16 135.62 L1083.43 133.15 L1083.70 130.80 L1083.91 129.01 L1084.11 127.24 L1084.30 125.50 L1084.50 123.82 L1084.71 122.21 L1084.95 120.69 L1085.21 119.28 L1085.50 118.00 L1085.71 117.20 L1085.93 116.37 L1086.17 115.55 L1086.41 114.78 L1086.66 114.11 L1086.91 113.58 L1087.16 113.23 L1087.40 113.10 L1087.64 113.23 L1087.88 113.58 L1088.13 114.11 L1088.37 114.78 L1088.62 115.55 L1088.85 116.37 L1089.08 117.20 L1089.30 118.00 L1089.61 119.28 L1089.90 120.69 L1090.15 122.21 L1090.40 123.82 L1090.65 125.51 L1090.90 127.24 L1091.19 129.01 L1091.50 130.80 L1091.95 133.16 L1092.45 135.67 L1092.99 138.28 L1093.54 140.95 L1094.10 143.65 L1094.66 146.33 L1095.19 148.96 L1095.70 151.50 L1096.13 153.84 L1096.55 156.26 L1096.95 158.69 L1097.34 161.08 L1097.73 163.37 L1098.14 165.50 L1098.56 167.39 L1099.00 169.00 L1099.23 169.76 L1099.46 170.51 L1099.69 171.23 L1099.92 171.89 L1100.17 172.47 L1100.42 172.93 L1100.70 173.25 L1101.00 173.40 L1101.27 173.36 L1101.56 173.16 L1101.85 172.84 L1102.16 172.45 L1102.48 172.03 L1102.81 171.62 L1103.15 171.26 L1103.50 171.00 L1103.85 170.81 L1104.22 170.62 L1104.61 170.46 L1105.00 170.31 L1105.40 170.20 L1105.78 170.14 L1106.15 170.14 L1106.50 170.20 L1106.86 170.35 L1107.20 170.57 L1107.54 170.86 L1107.85 171.21 L1108.16 171.61 L1108.45 172.04 L1108.73 172.51 L1109.00 173.00 L1109.40 173.89 L1109.74 174.93 L1110.04 176.08 L1110.31 177.33 L1110.57 178.64 L1110.81 179.99 L1111.05 181.35 L1111.30 182.70 L1111.59 184.38 L1111.85 186.17 L1112.09 188.03 L1112.33 189.92 L1112.57 191.81 L1112.84 193.64 L1113.14 195.39 L1113.50 197.00 L1113.82 198.16 L1114.18 199.25 L1114.55 200.29 L1114.94 201.29 L1115.34 202.29 L1115.74 203.29 L1116.13 204.32 L1116.50 205.40 L1116.90 206.62 L1117.29 207.83 L1117.68 209.05 L1118.07 210.29 L1118.46 211.58 L1118.84 212.91 L1119.22 214.31 L1119.60 215.80 L1120.13 218.04 L1120.65 220.47 L1121.18 223.03 L1121.70 225.69 L1122.21 228.41 L1122.72 231.15 L1123.21 233.86 L1123.70 236.50 L1124.18 239.07 L1124.64 241.62 L1125.10 244.16 L1125.55 246.70 L1126.00 249.27 L1126.44 251.88 L1126.87 254.55 L1127.30 257.30 L1127.79 260.60 L1128.26 264.03 L1128.73 267.57 L1129.19 271.15 L1129.64 274.73 L1130.10 278.26 L1130.55 281.70 L1131.00 285.00 L1131.38 287.75 L1131.73 290.42 L1132.08 293.03 L1132.43 295.60 L1132.79 298.15 L1133.18 300.69 L1133.61 303.23 L1134.10 305.80 L1134.64 308.40 L1135.21 311.00 L1135.81 313.59 L1136.45 316.18 L1137.11 318.77 L1137.81 321.35 L1138.54 323.93 L1139.30 326.50 L1140.11 329.16 L1140.95 331.90 L1141.83 334.66 L1142.75 337.40 L1143.68 340.08 L1144.64 342.65 L1145.62 345.07 L1146.60 347.30 L1147.32 348.83 L1148.03 350.27 L1148.73 351.65 L1149.45 352.96 L1150.20 354.21 L1151.00 355.41 L1151.86 356.58 L1152.80 357.70 L1153.82 358.76 L1154.92 359.74 L1156.09 360.66 L1157.30 361.54 L1158.53 362.39 L1159.77 363.25 L1161.00 364.11 L1162.20 365.00 L1162.20 365.00 Z" fill="#00BA38" fill-opacity="0.30" stroke="#00BA38" stroke-width="1.90" stroke-linejoin="round"/>
<path d="M1058.70 365.00 L1058.70 365.00 L1060.12 364.92 L1061.54 364.84 L1062.97 364.76 L1064.39 364.68 L1065.81 364.60 L1067.22 364.53 L1068.62 364.46 L1070.00 364.40 L1071.31 364.36 L1072.64 364.33 L1073.97 364.31 L1075.29 364.29 L1076.57 364.27 L1077.79 364.23 L1078.94 364.18 L1080.00 364.10 L1080.67 364.05 L1081.31 364.00 L1081.93 363.96 L1082.51 363.90 L1083.07 363.83 L1083.59 363.73 L1084.07 363.59 L1084.50 363.40 L1084.80 363.22 L1085.06 363.03 L1085.31 362.81 L1085.53 362.57 L1085.74 362.32 L1085.93 362.06 L1086.12 361.78 L1086.30 361.50 L1086.49 361.18 L1086.66 360.85 L1086.82 360.52 L1086.96 360.16 L1087.10 359.79 L1087.23 359.39 L1087.36 358.96 L1087.50 358.50 L1087.72 357.66 L1087.92 356.72 L1088.12 355.70 L1088.30 354.62 L1088.49 353.49 L1088.68 352.33 L1088.88 351.16 L1089.10 350.00 L1089.37 348.60 L1089.66 347.14 L1089.96 345.65 L1090.27 344.13 L1090.58 342.59 L1090.89 341.05 L1091.20 339.51 L1091.50 338.00 L1091.81 336.47 L1092.12 334.90 L1092.44 333.32 L1092.75 331.74 L1093.06 330.20 L1093.36 328.71 L1093.64 327.30 L1093.90 326.00 L1094.07 325.17 L1094.23 324.42 L1094.39 323.71 L1094.53 323.03 L1094.68 322.35 L1094.82 321.63 L1094.96 320.86 L1095.10 320.00 L1095.31 318.53 L1095.51 316.94 L1095.70 315.24 L1095.88 313.45 L1096.07 311.59 L1096.27 309.68 L1096.47 307.75 L1096.70 305.80 L1097.00 303.41 L1097.34 300.95 L1097.69 298.42 L1098.05 295.84 L1098.41 293.20 L1098.76 290.51 L1099.10 287.77 L1099.40 285.00 L1099.71 281.70 L1099.99 278.26 L1100.25 274.73 L1100.50 271.15 L1100.73 267.57 L1100.98 264.04 L1101.23 260.60 L1101.50 257.30 L1101.75 254.56 L1102.00 251.89 L1102.25 249.28 L1102.51 246.71 L1102.77 244.16 L1103.04 241.62 L1103.32 239.08 L1103.60 236.50 L1103.89 233.90 L1104.18 231.28 L1104.48 228.66 L1104.78 226.04 L1105.10 223.44 L1105.42 220.86 L1105.75 218.31 L1106.10 215.80 L1106.42 213.51 L1106.74 211.27 L1107.05 209.05 L1107.38 206.85 L1107.73 204.66 L1108.11 202.46 L1108.53 200.24 L1109.00 198.00 L1109.56 195.58 L1110.18 193.13 L1110.84 190.66 L1111.54 188.19 L1112.25 185.72 L1112.98 183.27 L1113.70 180.86 L1114.40 178.50 L1115.04 176.33 L1115.69 174.16 L1116.34 171.99 L1116.99 169.86 L1117.65 167.77 L1118.30 165.73 L1118.95 163.77 L1119.60 161.90 L1120.12 160.47 L1120.64 159.11 L1121.17 157.79 L1121.69 156.51 L1122.21 155.26 L1122.72 154.01 L1123.22 152.76 L1123.70 151.50 L1124.13 150.27 L1124.53 149.00 L1124.90 147.73 L1125.28 146.47 L1125.66 145.24 L1126.07 144.07 L1126.51 142.99 L1127.00 142.00 L1127.41 141.28 L1127.84 140.53 L1128.29 139.79 L1128.75 139.10 L1129.22 138.49 L1129.69 138.02 L1130.15 137.71 L1130.60 137.60 L1131.04 137.72 L1131.48 138.03 L1131.92 138.51 L1132.36 139.11 L1132.80 139.80 L1133.21 140.54 L1133.62 141.28 L1134.00 142.00 L1134.47 142.96 L1134.89 144.00 L1135.28 145.10 L1135.64 146.26 L1136.00 147.48 L1136.38 148.77 L1136.77 150.11 L1137.20 151.50 L1137.91 153.76 L1138.69 156.30 L1139.52 159.02 L1140.37 161.84 L1141.22 164.67 L1142.04 167.41 L1142.81 169.99 L1143.50 172.30 L1143.94 173.76 L1144.36 175.13 L1144.76 176.42 L1145.14 177.66 L1145.52 178.89 L1145.88 180.12 L1146.24 181.38 L1146.60 182.70 L1146.99 184.16 L1147.38 185.62 L1147.76 187.08 L1148.14 188.57 L1148.50 190.09 L1148.85 191.66 L1149.19 193.29 L1149.50 195.00 L1149.87 197.33 L1150.19 199.81 L1150.49 202.39 L1150.76 205.05 L1151.02 207.76 L1151.28 210.47 L1151.53 213.16 L1151.80 215.80 L1152.07 218.39 L1152.34 220.98 L1152.61 223.56 L1152.87 226.15 L1153.13 228.74 L1153.39 231.32 L1153.64 233.91 L1153.90 236.50 L1154.16 239.08 L1154.41 241.63 L1154.66 244.16 L1154.92 246.71 L1155.17 249.28 L1155.41 251.89 L1155.66 254.56 L1155.90 257.30 L1156.16 260.60 L1156.40 264.04 L1156.63 267.57 L1156.87 271.15 L1157.11 274.73 L1157.37 278.27 L1157.66 281.70 L1158.00 285.00 L1158.32 287.75 L1158.67 290.42 L1159.03 293.03 L1159.41 295.60 L1159.81 298.15 L1160.22 300.68 L1160.65 303.23 L1161.10 305.80 L1161.57 308.39 L1162.05 310.99 L1162.55 313.58 L1163.07 316.16 L1163.61 318.75 L1164.16 321.33 L1164.72 323.92 L1165.30 326.50 L1165.90 329.16 L1166.51 331.90 L1167.14 334.68 L1167.79 337.44 L1168.44 340.13 L1169.12 342.70 L1169.80 345.11 L1170.50 347.30 L1171.00 348.71 L1171.53 350.06 L1172.07 351.35 L1172.62 352.58 L1173.16 353.73 L1173.67 354.81 L1174.16 355.80 L1174.60 356.70 L1174.85 357.17 L1175.09 357.58 L1175.34 357.95 L1175.57 358.29 L1175.79 358.64 L1175.98 358.99 L1176.16 359.37 L1176.30 359.80 L1176.42 360.37 L1176.49 360.99 L1176.52 361.63 L1176.53 362.30 L1176.51 362.98 L1176.50 363.66 L1176.49 364.34 L1176.50 365.00 L1176.50 365.00 Z" fill="#619CFF" fill-opacity="0.30" stroke="#619CFF" stroke-width="1.90" stroke-linejoin="round"/>
<text transform="translate(1045.10 371.15) scale(1.000 0.940)" class="ax" text-anchor="end">0</text>
<text transform="translate(1045.10 274.11) scale(1.000 0.940)" class="ax" text-anchor="end">2</text>
<text transform="translate(1045.10 177.07) scale(1.000 0.940)" class="ax" text-anchor="end">4</text>
<text transform="translate(1045.10 80.03) scale(1.000 0.940)" class="ax" text-anchor="end">6</text>
<text transform="translate(1076.70 401.70) scale(1.000 0.940)" class="ax" text-anchor="middle">0.1</text>
<text transform="translate(1100.62 401.70) scale(1.000 0.940)" class="ax" text-anchor="middle">0.2</text>
<text transform="translate(1124.55 401.70) scale(1.000 0.940)" class="ax" text-anchor="middle">0.3</text>
<text transform="translate(1148.48 401.70) scale(1.000 0.940)" class="ax" text-anchor="middle">0.4</text>
<text transform="translate(1172.40 401.70) scale(1.000 0.940)" class="ax" text-anchor="middle">0.5</text>
<text transform="translate(1117.75 424.80) scale(1.000 1.060)" class="at" text-anchor="middle">h2</text>
<text transform="translate(1011.30 30.00) scale(0.930 1.000)" class="lt">D</text>
<text x="1054.60" y="26.70" class="ti">Weight</text>
<text transform="translate(1211.90 167.50) scale(1.000 1.060)" class="at">Heritabilities</text>
<rect x="1212.45" y="180.80" width="28.6" height="28.2" fill="#F8766D" fill-opacity="0.30" stroke="#F8766D" stroke-width="1.90"/>
<text transform="translate(1252.45 202.00) scale(1.000 1.030)" class="lg">D 0.14</text>
<rect x="1212.45" y="212.05" width="28.6" height="28.2" fill="#00BA38" fill-opacity="0.30" stroke="#00BA38" stroke-width="1.90"/>
<text transform="translate(1252.45 233.25) scale(1.000 1.030)" class="lg">E 0.2</text>
<rect x="1212.45" y="243.30" width="28.6" height="28.2" fill="#619CFF" fill-opacity="0.30" stroke="#619CFF" stroke-width="1.90"/>
<text transform="translate(1252.45 264.50) scale(1.000 1.030)" class="lg">G 0.32</text>
<line x1="1401.50" y1="41.80" x2="1401.50" y2="380.40" stroke="#EBEBEB" stroke-width="0.95"/>
<line x1="1426.70" y1="41.80" x2="1426.70" y2="380.40" stroke="#EBEBEB" stroke-width="0.95"/>
<line x1="1451.90" y1="41.80" x2="1451.90" y2="380.40" stroke="#EBEBEB" stroke-width="0.95"/>
<line x1="1477.10" y1="41.80" x2="1477.10" y2="380.40" stroke="#EBEBEB" stroke-width="0.95"/>
<line x1="1502.30" y1="41.80" x2="1502.30" y2="380.40" stroke="#EBEBEB" stroke-width="0.95"/>
<line x1="1391.60" y1="325.32" x2="1519.20" y2="325.32" stroke="#EBEBEB" stroke-width="0.95"/>
<line x1="1391.60" y1="245.96" x2="1519.20" y2="245.96" stroke="#EBEBEB" stroke-width="0.95"/>
<line x1="1391.60" y1="166.60" x2="1519.20" y2="166.60" stroke="#EBEBEB" stroke-width="0.95"/>
<line x1="1391.60" y1="87.24" x2="1519.20" y2="87.24" stroke="#EBEBEB" stroke-width="0.95"/>
<line x1="1414.10" y1="41.80" x2="1414.10" y2="380.40" stroke="#EBEBEB" stroke-width="1.9"/>
<line x1="1439.30" y1="41.80" x2="1439.30" y2="380.40" stroke="#EBEBEB" stroke-width="1.9"/>
<line x1="1464.50" y1="41.80" x2="1464.50" y2="380.40" stroke="#EBEBEB" stroke-width="1.9"/>
<line x1="1489.70" y1="41.80" x2="1489.70" y2="380.40" stroke="#EBEBEB" stroke-width="1.9"/>
<line x1="1514.90" y1="41.80" x2="1514.90" y2="380.40" stroke="#EBEBEB" stroke-width="1.9"/>
<line x1="1391.60" y1="365.00" x2="1519.20" y2="365.00" stroke="#EBEBEB" stroke-width="1.9"/>
<line x1="1391.60" y1="285.64" x2="1519.20" y2="285.64" stroke="#EBEBEB" stroke-width="1.9"/>
<line x1="1391.60" y1="206.28" x2="1519.20" y2="206.28" stroke="#EBEBEB" stroke-width="1.9"/>
<line x1="1391.60" y1="126.92" x2="1519.20" y2="126.92" stroke="#EBEBEB" stroke-width="1.9"/>
<line x1="1391.60" y1="47.56" x2="1519.20" y2="47.56" stroke="#EBEBEB" stroke-width="1.9"/>
<path d="M1397.30 365.00 L1397.30 365.00 L1397.30 362.43 L1397.27 359.76 L1397.24 357.05 L1397.21 354.35 L1397.20 351.74 L1397.22 349.27 L1397.28 347.01 L1397.40 345.00 L1397.50 343.95 L1397.61 343.00 L1397.73 342.13 L1397.87 341.30 L1398.01 340.49 L1398.17 339.69 L1398.33 338.87 L1398.50 338.00 L1398.69 337.03 L1398.90 336.07 L1399.13 335.11 L1399.36 334.13 L1399.60 333.14 L1399.83 332.13 L1400.07 331.08 L1400.30 330.00 L1400.58 328.62 L1400.86 327.19 L1401.14 325.70 L1401.42 324.19 L1401.69 322.65 L1401.97 321.09 L1402.24 319.54 L1402.50 318.00 L1402.76 316.38 L1403.02 314.71 L1403.28 313.03 L1403.52 311.34 L1403.77 309.67 L1404.01 308.04 L1404.26 306.48 L1404.50 305.00 L1404.69 303.93 L1404.86 302.93 L1405.04 301.99 L1405.21 301.06 L1405.39 300.13 L1405.58 299.16 L1405.78 298.13 L1406.00 297.00 L1406.37 295.21 L1406.78 293.31 L1407.23 291.30 L1407.70 289.20 L1408.17 287.02 L1408.64 284.75 L1409.09 282.41 L1409.50 280.00 L1410.00 276.68 L1410.46 273.16 L1410.89 269.48 L1411.31 265.68 L1411.72 261.80 L1412.13 257.86 L1412.55 253.92 L1413.00 250.00 L1413.50 245.57 L1414.01 240.80 L1414.52 235.88 L1415.03 230.97 L1415.56 226.25 L1416.10 221.90 L1416.64 218.09 L1417.20 215.00 L1417.46 213.89 L1417.72 212.95 L1417.98 212.12 L1418.24 211.37 L1418.50 210.64 L1418.77 209.88 L1419.03 209.05 L1419.30 208.10 L1419.69 206.52 L1420.09 204.78 L1420.49 202.91 L1420.89 200.98 L1421.29 199.03 L1421.68 197.12 L1422.05 195.29 L1422.40 193.60 L1422.65 192.33 L1422.86 191.05 L1423.06 189.80 L1423.26 188.58 L1423.47 187.43 L1423.70 186.35 L1423.97 185.37 L1424.30 184.50 L1424.54 183.98 L1424.79 183.46 L1425.06 182.96 L1425.35 182.49 L1425.64 182.10 L1425.93 181.78 L1426.22 181.58 L1426.50 181.50 L1426.79 181.58 L1427.08 181.80 L1427.38 182.13 L1427.67 182.54 L1427.97 183.02 L1428.26 183.52 L1428.53 184.02 L1428.80 184.50 L1429.11 185.08 L1429.40 185.70 L1429.68 186.34 L1429.94 187.02 L1430.20 187.72 L1430.46 188.46 L1430.73 189.22 L1431.00 190.00 L1431.38 191.11 L1431.76 192.32 L1432.15 193.60 L1432.54 194.92 L1432.92 196.24 L1433.29 197.55 L1433.66 198.81 L1434.00 200.00 L1434.27 200.95 L1434.51 201.91 L1434.74 202.85 L1434.97 203.76 L1435.20 204.65 L1435.45 205.49 L1435.71 206.28 L1436.00 207.00 L1436.23 207.52 L1436.47 208.06 L1436.72 208.59 L1436.97 209.10 L1437.23 209.54 L1437.49 209.89 L1437.75 210.12 L1438.00 210.20 L1438.25 210.12 L1438.51 209.89 L1438.76 209.55 L1439.02 209.11 L1439.27 208.61 L1439.52 208.07 L1439.76 207.53 L1440.00 207.00 L1440.34 206.18 L1440.67 205.24 L1440.99 204.23 L1441.30 203.17 L1441.60 202.08 L1441.90 201.01 L1442.20 199.97 L1442.50 199.00 L1442.75 198.18 L1442.97 197.33 L1443.19 196.49 L1443.40 195.67 L1443.63 194.88 L1443.89 194.16 L1444.17 193.53 L1444.50 193.00 L1444.74 192.70 L1445.00 192.41 L1445.28 192.15 L1445.57 191.91 L1445.86 191.72 L1446.14 191.59 L1446.43 191.51 L1446.70 191.50 L1447.00 191.59 L1447.31 191.77 L1447.61 192.04 L1447.91 192.37 L1448.20 192.75 L1448.48 193.16 L1448.75 193.58 L1449.00 194.00 L1449.32 194.60 L1449.61 195.27 L1449.87 195.99 L1450.12 196.75 L1450.35 197.55 L1450.58 198.36 L1450.79 199.18 L1451.00 200.00 L1451.22 200.94 L1451.40 201.92 L1451.56 202.92 L1451.71 203.93 L1451.86 204.96 L1452.04 205.98 L1452.25 207.00 L1452.50 208.00 L1452.83 209.00 L1453.21 209.99 L1453.63 210.97 L1454.08 211.94 L1454.51 212.93 L1454.93 213.93 L1455.30 214.95 L1455.60 216.00 L1455.84 217.14 L1456.02 218.28 L1456.14 219.42 L1456.24 220.60 L1456.33 221.81 L1456.42 223.07 L1456.54 224.39 L1456.70 225.80 L1457.00 228.02 L1457.35 230.44 L1457.73 233.00 L1458.14 235.67 L1458.56 238.40 L1458.98 241.14 L1459.40 243.86 L1459.80 246.50 L1460.19 249.11 L1460.60 251.73 L1461.00 254.37 L1461.40 257.00 L1461.80 259.62 L1462.19 262.21 L1462.55 264.78 L1462.90 267.30 L1463.19 269.57 L1463.44 271.79 L1463.67 273.98 L1463.90 276.15 L1464.13 278.33 L1464.38 280.52 L1464.67 282.73 L1465.00 285.00 L1465.42 287.53 L1465.89 290.09 L1466.39 292.69 L1466.93 295.31 L1467.47 297.94 L1468.02 300.57 L1468.57 303.19 L1469.10 305.80 L1469.61 308.41 L1470.11 311.04 L1470.60 313.68 L1471.09 316.31 L1471.60 318.92 L1472.14 321.50 L1472.70 324.03 L1473.30 326.50 L1473.87 328.70 L1474.46 330.89 L1475.07 333.04 L1475.70 335.16 L1476.36 337.24 L1477.04 339.28 L1477.75 341.27 L1478.50 343.20 L1479.19 344.91 L1479.89 346.63 L1480.61 348.33 L1481.36 349.99 L1482.13 351.58 L1482.95 353.06 L1483.80 354.41 L1484.70 355.60 L1485.42 356.41 L1486.17 357.18 L1486.96 357.90 L1487.76 358.55 L1488.57 359.12 L1489.37 359.59 L1490.15 359.96 L1490.90 360.20 L1491.43 360.28 L1491.95 360.27 L1492.46 360.19 L1492.97 360.07 L1493.48 359.92 L1493.98 359.76 L1494.49 359.62 L1495.00 359.50 L1495.52 359.40 L1496.03 359.31 L1496.53 359.21 L1497.04 359.11 L1497.56 359.01 L1498.09 358.90 L1498.63 358.80 L1499.20 358.70 L1499.93 358.56 L1500.70 358.38 L1501.50 358.20 L1502.31 358.02 L1503.13 357.86 L1503.94 357.74 L1504.74 357.68 L1505.50 357.70 L1506.19 357.78 L1506.89 357.90 L1507.58 358.06 L1508.26 358.26 L1508.92 358.49 L1509.55 358.76 L1510.15 359.07 L1510.70 359.40 L1511.19 359.75 L1511.68 360.16 L1512.15 360.60 L1512.58 361.06 L1512.98 361.54 L1513.32 362.01 L1513.60 362.47 L1513.80 362.90 L1513.88 363.17 L1513.92 363.44 L1513.92 363.70 L1513.90 363.96 L1513.87 364.22 L1513.84 364.48 L1513.81 364.74 L1513.80 365.00 L1513.80 365.00 Z" fill="#F8766D" fill-opacity="0.30" stroke="#F8766D" stroke-width="1.90" stroke-linejoin="round"/>
<path d="M1399.50 365.00 L1399.50 365.00 L1399.69 364.69 L1399.88 364.39 L1400.06 364.09 L1400.25 363.79 L1400.44 363.49 L1400.63 363.17 L1400.81 362.85 L1401.00 362.50 L1401.23 362.07 L1401.47 361.64 L1401.70 361.20 L1401.94 360.74 L1402.17 360.25 L1402.39 359.72 L1402.60 359.14 L1402.80 358.50 L1403.12 357.12 L1403.40 355.50 L1403.64 353.68 L1403.85 351.75 L1404.05 349.75 L1404.23 347.75 L1404.41 345.81 L1404.60 344.00 L1404.77 342.45 L1404.93 340.92 L1405.08 339.42 L1405.23 337.93 L1405.37 336.45 L1405.51 334.97 L1405.65 333.49 L1405.80 332.00 L1405.95 330.51 L1406.11 329.02 L1406.27 327.55 L1406.43 326.06 L1406.58 324.58 L1406.73 323.07 L1406.87 321.55 L1407.00 320.00 L1407.12 318.30 L1407.23 316.60 L1407.33 314.88 L1407.43 313.15 L1407.52 311.38 L1407.61 309.57 L1407.70 307.71 L1407.80 305.80 L1407.93 303.43 L1408.06 301.03 L1408.19 298.57 L1408.32 296.04 L1408.45 293.44 L1408.60 290.74 L1408.74 287.93 L1408.90 285.00 L1409.12 280.76 L1409.36 276.24 L1409.60 271.49 L1409.85 266.57 L1410.12 261.56 L1410.40 256.50 L1410.69 251.46 L1411.00 246.50 L1411.34 241.36 L1411.71 236.15 L1412.09 230.89 L1412.49 225.62 L1412.89 220.37 L1413.30 215.16 L1413.70 210.03 L1414.10 205.00 L1414.46 200.50 L1414.83 196.09 L1415.19 191.76 L1415.56 187.46 L1415.92 183.17 L1416.29 178.85 L1416.65 174.47 L1417.00 170.00 L1417.37 165.06 L1417.75 159.97 L1418.11 154.78 L1418.48 149.58 L1418.84 144.43 L1419.20 139.40 L1419.55 134.57 L1419.90 130.00 L1420.16 126.56 L1420.41 123.21 L1420.65 119.95 L1420.89 116.78 L1421.14 113.70 L1421.40 110.72 L1421.68 107.82 L1422.00 105.00 L1422.27 102.78 L1422.53 100.58 L1422.80 98.42 L1423.09 96.33 L1423.40 94.32 L1423.73 92.42 L1424.10 90.64 L1424.50 89.00 L1424.80 87.90 L1425.12 86.76 L1425.46 85.62 L1425.80 84.55 L1426.16 83.61 L1426.51 82.87 L1426.86 82.38 L1427.20 82.20 L1427.54 82.38 L1427.88 82.89 L1428.23 83.65 L1428.58 84.60 L1428.91 85.67 L1429.23 86.81 L1429.53 87.94 L1429.80 89.00 L1430.11 90.38 L1430.36 91.82 L1430.57 93.33 L1430.75 94.91 L1430.92 96.57 L1431.09 98.30 L1431.28 100.11 L1431.50 102.00 L1431.87 105.03 L1432.28 108.40 L1432.70 111.99 L1433.14 115.72 L1433.59 119.49 L1434.04 123.19 L1434.48 126.72 L1434.90 130.00 L1435.23 132.43 L1435.56 134.76 L1435.88 137.00 L1436.20 139.19 L1436.53 141.36 L1436.85 143.53 L1437.17 145.73 L1437.50 148.00 L1437.85 150.45 L1438.21 152.94 L1438.56 155.44 L1438.92 157.96 L1439.28 160.49 L1439.63 163.01 L1439.97 165.52 L1440.30 168.00 L1440.61 170.42 L1440.90 172.87 L1441.19 175.32 L1441.48 177.76 L1441.76 180.16 L1442.04 182.52 L1442.32 184.80 L1442.60 187.00 L1442.84 188.76 L1443.07 190.47 L1443.31 192.13 L1443.54 193.76 L1443.78 195.36 L1444.01 196.93 L1444.26 198.47 L1444.50 200.00 L1444.72 201.30 L1444.94 202.54 L1445.17 203.75 L1445.40 204.94 L1445.63 206.14 L1445.85 207.37 L1446.08 208.65 L1446.30 210.00 L1446.57 211.79 L1446.82 213.64 L1447.08 215.57 L1447.33 217.54 L1447.58 219.56 L1447.84 221.62 L1448.11 223.70 L1448.40 225.80 L1448.73 228.31 L1449.05 230.96 L1449.38 233.69 L1449.72 236.44 L1450.09 239.16 L1450.50 241.79 L1450.97 244.25 L1451.50 246.50 L1451.95 247.99 L1452.45 249.38 L1452.99 250.68 L1453.55 251.93 L1454.11 253.16 L1454.65 254.38 L1455.15 255.62 L1455.60 256.90 L1455.99 258.16 L1456.35 259.40 L1456.68 260.62 L1457.00 261.85 L1457.29 263.12 L1457.57 264.43 L1457.84 265.82 L1458.10 267.30 L1458.43 269.55 L1458.72 272.01 L1458.97 274.61 L1459.20 277.30 L1459.42 280.04 L1459.65 282.77 L1459.91 285.44 L1460.20 288.00 L1460.50 290.28 L1460.82 292.52 L1461.15 294.72 L1461.49 296.90 L1461.84 299.09 L1462.20 301.29 L1462.55 303.52 L1462.90 305.80 L1463.26 308.31 L1463.61 310.87 L1463.96 313.45 L1464.31 316.06 L1464.68 318.68 L1465.08 321.30 L1465.51 323.91 L1466.00 326.50 L1466.55 329.16 L1467.14 331.89 L1467.77 334.64 L1468.43 337.38 L1469.11 340.05 L1469.80 342.63 L1470.50 345.06 L1471.20 347.30 L1471.70 348.80 L1472.18 350.23 L1472.67 351.59 L1473.17 352.89 L1473.68 354.14 L1474.22 355.36 L1474.79 356.54 L1475.40 357.70 L1475.98 358.70 L1476.60 359.66 L1477.25 360.58 L1477.91 361.47 L1478.59 362.35 L1479.27 363.22 L1479.94 364.10 L1480.60 365.00 L1480.60 365.00 Z" fill="#00BA38" fill-opacity="0.30" stroke="#00BA38" stroke-width="1.90" stroke-linejoin="round"/>
<path d="M1397.40 365.00 L1397.40 365.00 L1397.40 362.81 L1397.39 360.51 L1397.37 358.18 L1397.35 355.87 L1397.35 353.63 L1397.37 351.54 L1397.41 349.64 L1397.50 348.00 L1397.56 347.23 L1397.64 346.54 L1397.72 345.90 L1397.80 345.31 L1397.90 344.74 L1397.99 344.18 L1398.10 343.60 L1398.20 343.00 L1398.31 342.39 L1398.42 341.80 L1398.53 341.22 L1398.65 340.63 L1398.78 340.03 L1398.91 339.40 L1399.05 338.73 L1399.20 338.00 L1399.46 336.73 L1399.75 335.31 L1400.07 333.77 L1400.40 332.17 L1400.73 330.55 L1401.05 328.95 L1401.34 327.42 L1401.60 326.00 L1401.78 324.93 L1401.95 323.91 L1402.10 322.92 L1402.24 321.96 L1402.38 321.00 L1402.51 320.03 L1402.65 319.03 L1402.80 318.00 L1402.97 316.80 L1403.15 315.55 L1403.32 314.28 L1403.50 313.00 L1403.68 311.72 L1403.85 310.45 L1404.03 309.20 L1404.20 308.00 L1404.34 306.91 L1404.47 305.78 L1404.59 304.63 L1404.71 303.52 L1404.84 302.46 L1404.99 301.50 L1405.18 300.67 L1405.40 300.00 L1405.52 299.75 L1405.63 299.52 L1405.75 299.32 L1405.88 299.14 L1406.02 298.99 L1406.16 298.85 L1406.32 298.72 L1406.50 298.60 L1406.73 298.51 L1406.99 298.47 L1407.27 298.47 L1407.57 298.47 L1407.86 298.47 L1408.14 298.44 L1408.39 298.36 L1408.60 298.20 L1408.87 297.76 L1409.05 297.16 L1409.17 296.42 L1409.24 295.59 L1409.27 294.69 L1409.30 293.77 L1409.34 292.86 L1409.40 292.00 L1409.49 291.05 L1409.56 290.10 L1409.63 289.14 L1409.69 288.15 L1409.75 287.14 L1409.82 286.10 L1409.90 285.02 L1410.00 283.90 L1410.16 282.37 L1410.35 280.77 L1410.55 279.12 L1410.77 277.41 L1410.99 275.64 L1411.21 273.82 L1411.42 271.94 L1411.60 270.00 L1411.81 267.38 L1412.01 264.64 L1412.20 261.79 L1412.37 258.85 L1412.54 255.84 L1412.70 252.76 L1412.85 249.64 L1413.00 246.50 L1413.16 242.72 L1413.31 238.73 L1413.44 234.61 L1413.57 230.45 L1413.69 226.33 L1413.82 222.32 L1413.95 218.52 L1414.10 215.00 L1414.21 212.63 L1414.33 210.43 L1414.44 208.36 L1414.56 206.34 L1414.68 204.33 L1414.81 202.26 L1414.95 200.07 L1415.10 197.70 L1415.32 194.27 L1415.57 190.65 L1415.84 186.86 L1416.11 182.95 L1416.39 178.93 L1416.67 174.83 L1416.94 170.68 L1417.20 166.50 L1417.47 161.58 L1417.72 156.49 L1417.96 151.28 L1418.20 145.99 L1418.44 140.67 L1418.70 135.37 L1418.98 130.13 L1419.30 125.00 L1419.64 120.14 L1420.01 115.24 L1420.40 110.33 L1420.81 105.48 L1421.22 100.71 L1421.63 96.07 L1422.03 91.62 L1422.40 87.40 L1422.66 84.23 L1422.90 81.08 L1423.12 77.99 L1423.35 75.01 L1423.58 72.17 L1423.85 69.53 L1424.15 67.12 L1424.50 65.00 L1424.72 63.87 L1424.96 62.72 L1425.21 61.60 L1425.46 60.55 L1425.72 59.65 L1425.99 58.94 L1426.25 58.47 L1426.50 58.30 L1426.75 58.47 L1427.01 58.94 L1427.27 59.65 L1427.53 60.55 L1427.79 61.60 L1428.04 62.72 L1428.28 63.87 L1428.50 65.00 L1428.85 67.12 L1429.15 69.53 L1429.42 72.17 L1429.65 75.01 L1429.89 77.99 L1430.13 81.08 L1430.39 84.23 L1430.70 87.40 L1431.15 91.71 L1431.64 96.38 L1432.17 101.28 L1432.71 106.29 L1433.26 111.29 L1433.82 116.16 L1434.37 120.77 L1434.90 125.00 L1435.30 127.90 L1435.70 130.63 L1436.11 133.25 L1436.52 135.79 L1436.92 138.27 L1437.30 140.74 L1437.66 143.24 L1438.00 145.80 L1438.30 148.39 L1438.57 150.97 L1438.82 153.56 L1439.06 156.15 L1439.29 158.73 L1439.52 161.32 L1439.75 163.91 L1440.00 166.50 L1440.26 169.15 L1440.52 171.86 L1440.78 174.61 L1441.04 177.35 L1441.31 180.02 L1441.57 182.60 L1441.84 185.04 L1442.10 187.30 L1442.29 188.77 L1442.47 190.13 L1442.66 191.43 L1442.85 192.67 L1443.04 193.89 L1443.23 195.12 L1443.41 196.38 L1443.60 197.70 L1443.80 199.18 L1444.00 200.67 L1444.21 202.17 L1444.41 203.69 L1444.61 205.23 L1444.81 206.79 L1445.00 208.38 L1445.20 210.00 L1445.42 211.86 L1445.63 213.76 L1445.84 215.69 L1446.05 217.64 L1446.26 219.63 L1446.47 221.65 L1446.68 223.71 L1446.90 225.80 L1447.15 228.25 L1447.41 230.78 L1447.68 233.36 L1447.94 235.97 L1448.21 238.61 L1448.47 241.26 L1448.74 243.89 L1449.00 246.50 L1449.26 249.12 L1449.52 251.77 L1449.78 254.43 L1450.04 257.08 L1450.31 259.71 L1450.57 262.31 L1450.83 264.84 L1451.10 267.30 L1451.29 269.47 L1451.42 271.72 L1451.53 273.98 L1451.65 276.19 L1451.82 278.26 L1452.08 280.14 L1452.46 281.74 L1453.00 283.00 L1453.37 283.49 L1453.80 283.86 L1454.26 284.15 L1454.75 284.39 L1455.24 284.61 L1455.71 284.85 L1456.13 285.13 L1456.50 285.50 L1456.82 285.95 L1457.10 286.42 L1457.35 286.92 L1457.57 287.44 L1457.76 288.01 L1457.94 288.62 L1458.12 289.28 L1458.30 290.00 L1458.59 291.49 L1458.81 293.21 L1458.98 295.11 L1459.12 297.15 L1459.26 299.29 L1459.40 301.47 L1459.57 303.66 L1459.80 305.80 L1460.12 308.26 L1460.47 310.78 L1460.85 313.36 L1461.26 315.98 L1461.67 318.61 L1462.09 321.26 L1462.50 323.89 L1462.90 326.50 L1463.25 329.19 L1463.56 332.00 L1463.85 334.87 L1464.14 337.71 L1464.48 340.45 L1464.88 343.02 L1465.38 345.32 L1466.00 347.30 L1466.44 348.30 L1466.91 349.18 L1467.41 349.97 L1467.94 350.70 L1468.49 351.39 L1469.06 352.07 L1469.63 352.76 L1470.20 353.50 L1470.82 354.30 L1471.48 355.09 L1472.16 355.89 L1472.86 356.68 L1473.54 357.47 L1474.20 358.25 L1474.83 359.03 L1475.40 359.80 L1475.85 360.46 L1476.26 361.11 L1476.66 361.77 L1477.03 362.41 L1477.39 363.06 L1477.75 363.70 L1478.12 364.35 L1478.50 365.00 L1478.50 365.00 Z" fill="#619CFF" fill-opacity="0.30" stroke="#619CFF" stroke-width="1.90" stroke-linejoin="round"/>
<text transform="translate(1382.30 371.15) scale(1.000 0.940)" class="ax" text-anchor="end">0</text>
<text transform="translate(1382.30 291.79) scale(1.000 0.940)" class="ax" text-anchor="end">2</text>
<text transform="translate(1382.30 212.43) scale(1.000 0.940)" class="ax" text-anchor="end">4</text>
<text transform="translate(1382.30 133.07) scale(1.000 0.940)" class="ax" text-anchor="end">6</text>
<text transform="translate(1382.30 53.71) scale(1.000 0.940)" class="ax" text-anchor="end">8</text>
<text transform="translate(1414.10 401.70) scale(1.000 0.940)" class="ax" text-anchor="middle">0.1</text>
<text transform="translate(1439.30 401.70) scale(1.000 0.940)" class="ax" text-anchor="middle">0.2</text>
<text transform="translate(1464.50 401.70) scale(1.000 0.940)" class="ax" text-anchor="middle">0.3</text>
<text transform="translate(1489.70 401.70) scale(1.000 0.940)" class="ax" text-anchor="middle">0.4</text>
<text transform="translate(1514.90 401.70) scale(1.000 0.940)" class="ax" text-anchor="middle">0.5</text>
<text transform="translate(1455.20 424.80) scale(1.000 1.060)" class="at" text-anchor="middle">h2</text>
<text transform="translate(1348.20 30.00) scale(0.930 1.000)" class="lt">E</text>
<text x="1391.70" y="26.70" class="ti">Yield</text>
<text transform="translate(1549.45 167.50) scale(1.000 1.060)" class="at">Heritabilities</text>
<rect x="1550.00" y="180.80" width="28.6" height="28.2" fill="#F8766D" fill-opacity="0.30" stroke="#F8766D" stroke-width="1.90"/>
<text transform="translate(1590.00 202.00) scale(1.000 1.030)" class="lg">D 0.19</text>
<rect x="1550.00" y="212.05" width="28.6" height="28.2" fill="#00BA38" fill-opacity="0.30" stroke="#00BA38" stroke-width="1.90"/>
<text transform="translate(1590.00 233.25) scale(1.000 1.030)" class="lg">E 0.18</text>
<rect x="1550.00" y="243.30" width="28.6" height="28.2" fill="#619CFF" fill-opacity="0.30" stroke="#619CFF" stroke-width="1.90"/>
<text transform="translate(1590.00 264.50) scale(1.000 1.030)" class="lg">G 0.17</text>
</svg>
</body></html>
